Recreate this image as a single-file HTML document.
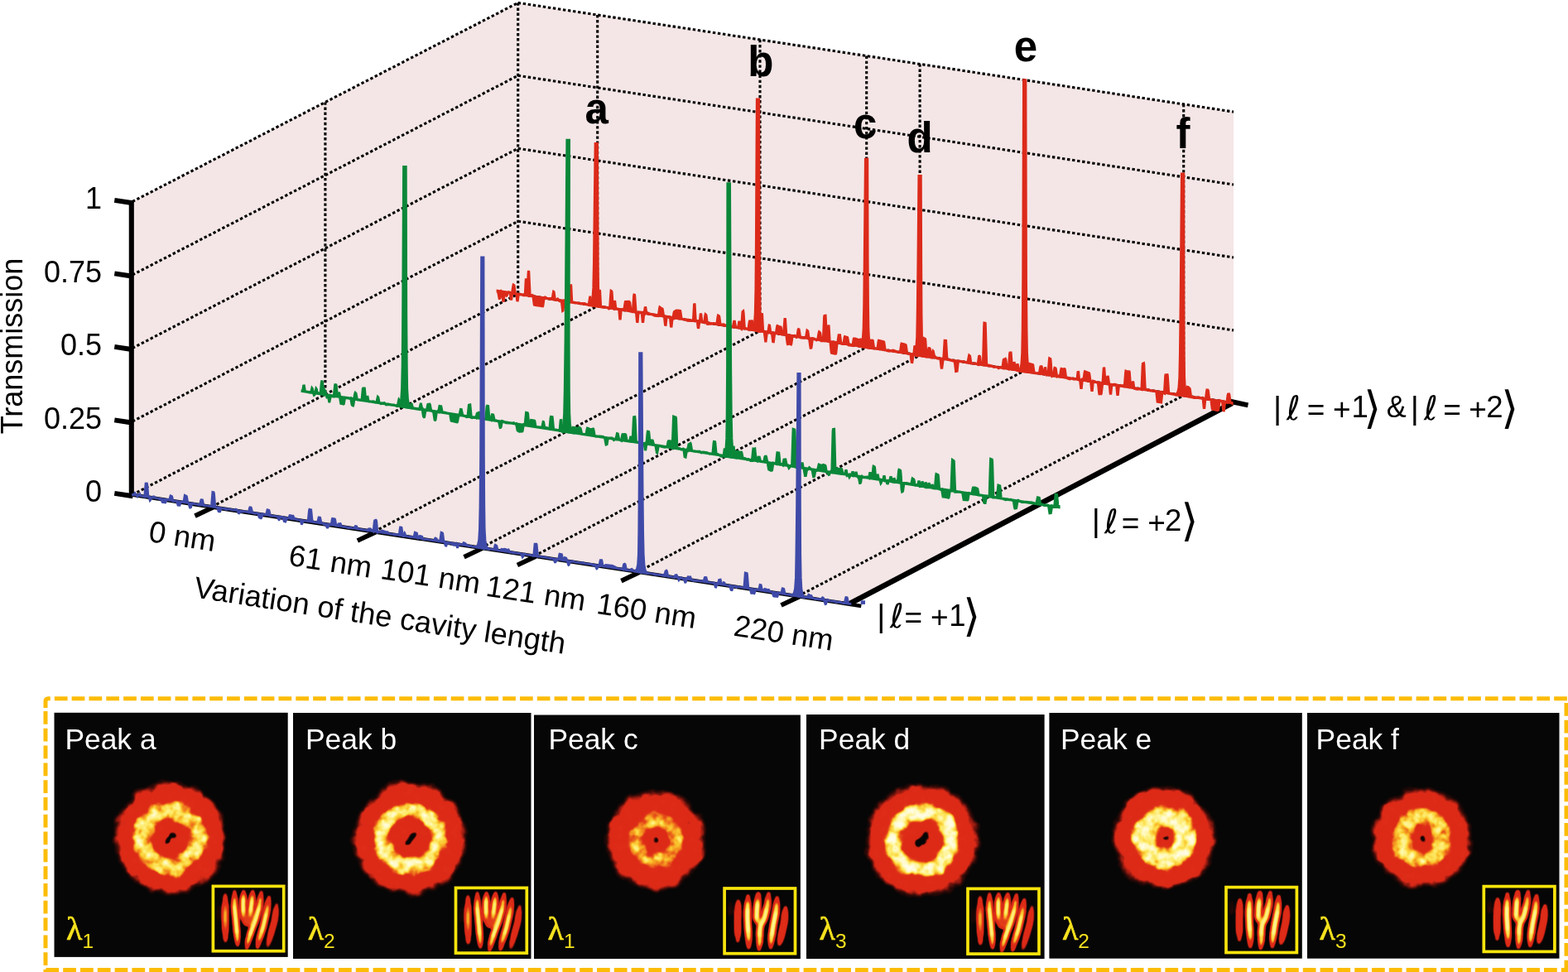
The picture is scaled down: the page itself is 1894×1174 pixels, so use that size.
<!DOCTYPE html>
<html lang="en">
<head>
<meta charset="utf-8">
<title>Transmission versus variation of the cavity length</title>
<style>
html,body{margin:0;padding:0;background:#fff;}
body{width:1894px;height:1174px;overflow:hidden;}
svg{display:block;}
.dot line{stroke:#000;stroke-width:3.1;stroke-dasharray:3.4 2.7;fill:none;}
</style>
</head>
<body>
<svg width="1894" height="1174" viewBox="0 0 1894 1174">
<defs>
<filter id="hot_a" filterUnits="userSpaceOnUse" x="121.5" y="928.4" width="168" height="168" color-interpolation-filters="sRGB"><feTurbulence type="fractalNoise" baseFrequency="0.045" numOctaves="3" seed="8" result="lf"/><feDisplacementMap in="SourceGraphic" in2="lf" scale="12" xChannelSelector="G" yChannelSelector="R" result="shape"/><feGaussianBlur in="shape" stdDeviation="1.0" result="soft"/><feTurbulence type="fractalNoise" baseFrequency="0.42" numOctaves="2" seed="3" result="hf"/><feColorMatrix in="hf" type="matrix" values="1 0 0 0 0  1 0 0 0 0  1 0 0 0 0  0 0 0 0 1" result="hfg"/><feComposite in="soft" in2="hfg" operator="arithmetic" k1="0.56" k2="0.74" k3="0" k4="0" result="noisy0"/><feTurbulence type="fractalNoise" baseFrequency="0.11" numOctaves="2" seed="43" result="mf"/><feColorMatrix in="mf" type="matrix" values="1 0 0 0 0  1 0 0 0 0  1 0 0 0 0  0 0 0 0 1" result="mfg"/><feComposite in="noisy0" in2="mfg" operator="arithmetic" k1="0.9" k2="0.56" k3="0" k4="0" result="noisy"/><feGaussianBlur in="noisy" stdDeviation="0.85"/><feComponentTransfer><feFuncR type="table" tableValues="0.024 0.031 0.204 0.588 0.863 0.867 0.867 0.871 0.894 0.933 0.965 0.980 0.992 0.996 1.000 1.000 1.000"/><feFuncG type="table" tableValues="0.024 0.024 0.043 0.102 0.165 0.165 0.169 0.180 0.282 0.439 0.627 0.784 0.886 0.933 0.965 0.980 0.992"/><feFuncB type="table" tableValues="0.024 0.024 0.031 0.063 0.094 0.094 0.094 0.094 0.102 0.110 0.133 0.196 0.329 0.486 0.643 0.800 0.910"/></feComponentTransfer></filter>
<radialGradient id="int_a" gradientUnits="objectBoundingBox" cx="0.5" cy="0.5" r="0.5"><stop offset="0.000" stop-color="#545454"/><stop offset="0.297" stop-color="#545454"/><stop offset="0.328" stop-color="#8f8f8f"/><stop offset="0.365" stop-color="#adadad"/><stop offset="0.426" stop-color="#c2c2c2"/><stop offset="0.493" stop-color="#c2c2c2"/><stop offset="0.554" stop-color="#adadad"/><stop offset="0.591" stop-color="#8f8f8f"/><stop offset="0.622" stop-color="#545454"/><stop offset="0.818" stop-color="#545454"/><stop offset="0.858" stop-color="#383838"/><stop offset="0.899" stop-color="#212121"/><stop offset="0.946" stop-color="#0f0f0f"/><stop offset="1.000" stop-color="#000000"/></radialGradient>
<filter id="hot_b" filterUnits="userSpaceOnUse" x="411.0" y="928.4" width="168" height="168" color-interpolation-filters="sRGB"><feTurbulence type="fractalNoise" baseFrequency="0.045" numOctaves="3" seed="5" result="lf"/><feDisplacementMap in="SourceGraphic" in2="lf" scale="12" xChannelSelector="G" yChannelSelector="R" result="shape"/><feGaussianBlur in="shape" stdDeviation="1.0" result="soft"/><feTurbulence type="fractalNoise" baseFrequency="0.42" numOctaves="2" seed="11" result="hf"/><feColorMatrix in="hf" type="matrix" values="1 0 0 0 0  1 0 0 0 0  1 0 0 0 0  0 0 0 0 1" result="hfg"/><feComposite in="soft" in2="hfg" operator="arithmetic" k1="0.56" k2="0.74" k3="0" k4="0" result="noisy0"/><feTurbulence type="fractalNoise" baseFrequency="0.11" numOctaves="2" seed="51" result="mf"/><feColorMatrix in="mf" type="matrix" values="1 0 0 0 0  1 0 0 0 0  1 0 0 0 0  0 0 0 0 1" result="mfg"/><feComposite in="noisy0" in2="mfg" operator="arithmetic" k1="0.9" k2="0.56" k3="0" k4="0" result="noisy"/><feGaussianBlur in="noisy" stdDeviation="0.85"/><feComponentTransfer><feFuncR type="table" tableValues="0.024 0.031 0.204 0.588 0.863 0.867 0.867 0.871 0.894 0.933 0.965 0.980 0.992 0.996 1.000 1.000 1.000"/><feFuncG type="table" tableValues="0.024 0.024 0.043 0.102 0.165 0.165 0.169 0.180 0.282 0.439 0.627 0.784 0.886 0.933 0.965 0.980 0.992"/><feFuncB type="table" tableValues="0.024 0.024 0.031 0.063 0.094 0.094 0.094 0.094 0.102 0.110 0.133 0.196 0.329 0.486 0.643 0.800 0.910"/></feComponentTransfer></filter>
<radialGradient id="int_b" gradientUnits="objectBoundingBox" cx="0.5" cy="0.5" r="0.5"><stop offset="0.000" stop-color="#545454"/><stop offset="0.309" stop-color="#545454"/><stop offset="0.340" stop-color="#8f8f8f"/><stop offset="0.376" stop-color="#b8b8b8"/><stop offset="0.423" stop-color="#cccccc"/><stop offset="0.491" stop-color="#cccccc"/><stop offset="0.538" stop-color="#b8b8b8"/><stop offset="0.574" stop-color="#8f8f8f"/><stop offset="0.605" stop-color="#545454"/><stop offset="0.819" stop-color="#545454"/><stop offset="0.859" stop-color="#383838"/><stop offset="0.899" stop-color="#212121"/><stop offset="0.946" stop-color="#0f0f0f"/><stop offset="1.000" stop-color="#000000"/></radialGradient>
<filter id="hot_c" filterUnits="userSpaceOnUse" x="708.0" y="931.0" width="168" height="168" color-interpolation-filters="sRGB"><feTurbulence type="fractalNoise" baseFrequency="0.045" numOctaves="3" seed="14" result="lf"/><feDisplacementMap in="SourceGraphic" in2="lf" scale="12" xChannelSelector="G" yChannelSelector="R" result="shape"/><feGaussianBlur in="shape" stdDeviation="1.0" result="soft"/><feTurbulence type="fractalNoise" baseFrequency="0.42" numOctaves="2" seed="21" result="hf"/><feColorMatrix in="hf" type="matrix" values="1 0 0 0 0  1 0 0 0 0  1 0 0 0 0  0 0 0 0 1" result="hfg"/><feComposite in="soft" in2="hfg" operator="arithmetic" k1="0.56" k2="0.74" k3="0" k4="0" result="noisy0"/><feTurbulence type="fractalNoise" baseFrequency="0.11" numOctaves="2" seed="61" result="mf"/><feColorMatrix in="mf" type="matrix" values="1 0 0 0 0  1 0 0 0 0  1 0 0 0 0  0 0 0 0 1" result="mfg"/><feComposite in="noisy0" in2="mfg" operator="arithmetic" k1="0.9" k2="0.56" k3="0" k4="0" result="noisy"/><feGaussianBlur in="noisy" stdDeviation="0.85"/><feComponentTransfer><feFuncR type="table" tableValues="0.024 0.031 0.204 0.588 0.863 0.867 0.867 0.871 0.894 0.933 0.965 0.980 0.992 0.996 1.000 1.000 1.000"/><feFuncG type="table" tableValues="0.024 0.024 0.043 0.102 0.165 0.165 0.169 0.180 0.282 0.439 0.627 0.784 0.886 0.933 0.965 0.980 0.992"/><feFuncB type="table" tableValues="0.024 0.024 0.031 0.063 0.094 0.094 0.094 0.094 0.102 0.110 0.133 0.196 0.329 0.486 0.643 0.800 0.910"/></feComponentTransfer></filter>
<radialGradient id="int_c" gradientUnits="objectBoundingBox" cx="0.5" cy="0.5" r="0.5"><stop offset="0.000" stop-color="#545454"/><stop offset="0.211" stop-color="#545454"/><stop offset="0.245" stop-color="#8f8f8f"/><stop offset="0.286" stop-color="#939393"/><stop offset="0.323" stop-color="#a7a7a7"/><stop offset="0.398" stop-color="#a7a7a7"/><stop offset="0.436" stop-color="#939393"/><stop offset="0.477" stop-color="#8f8f8f"/><stop offset="0.511" stop-color="#545454"/><stop offset="0.797" stop-color="#545454"/><stop offset="0.842" stop-color="#383838"/><stop offset="0.887" stop-color="#212121"/><stop offset="0.940" stop-color="#0f0f0f"/><stop offset="1.000" stop-color="#000000"/></radialGradient>
<filter id="hot_d" filterUnits="userSpaceOnUse" x="1029.8" y="931.0" width="168" height="168" color-interpolation-filters="sRGB"><feTurbulence type="fractalNoise" baseFrequency="0.045" numOctaves="3" seed="31" result="lf"/><feDisplacementMap in="SourceGraphic" in2="lf" scale="12" xChannelSelector="G" yChannelSelector="R" result="shape"/><feGaussianBlur in="shape" stdDeviation="1.0" result="soft"/><feTurbulence type="fractalNoise" baseFrequency="0.42" numOctaves="2" seed="7" result="hf"/><feColorMatrix in="hf" type="matrix" values="1 0 0 0 0  1 0 0 0 0  1 0 0 0 0  0 0 0 0 1" result="hfg"/><feComposite in="soft" in2="hfg" operator="arithmetic" k1="0.56" k2="0.74" k3="0" k4="0" result="noisy0"/><feTurbulence type="fractalNoise" baseFrequency="0.11" numOctaves="2" seed="47" result="mf"/><feColorMatrix in="mf" type="matrix" values="1 0 0 0 0  1 0 0 0 0  1 0 0 0 0  0 0 0 0 1" result="mfg"/><feComposite in="noisy0" in2="mfg" operator="arithmetic" k1="0.9" k2="0.56" k3="0" k4="0" result="noisy"/><feGaussianBlur in="noisy" stdDeviation="0.85"/><feComponentTransfer><feFuncR type="table" tableValues="0.024 0.031 0.204 0.588 0.863 0.867 0.867 0.871 0.894 0.933 0.965 0.980 0.992 0.996 1.000 1.000 1.000"/><feFuncG type="table" tableValues="0.024 0.024 0.043 0.102 0.165 0.165 0.169 0.180 0.282 0.439 0.627 0.784 0.886 0.933 0.965 0.980 0.992"/><feFuncB type="table" tableValues="0.024 0.024 0.031 0.063 0.094 0.094 0.094 0.094 0.102 0.110 0.133 0.196 0.329 0.486 0.643 0.800 0.910"/></feComponentTransfer></filter>
<radialGradient id="int_d" gradientUnits="objectBoundingBox" cx="0.5" cy="0.5" r="0.5"><stop offset="0.000" stop-color="#545454"/><stop offset="0.322" stop-color="#545454"/><stop offset="0.353" stop-color="#8f8f8f"/><stop offset="0.389" stop-color="#d1d1d1"/><stop offset="0.436" stop-color="#e6e6e6"/><stop offset="0.503" stop-color="#e6e6e6"/><stop offset="0.550" stop-color="#d1d1d1"/><stop offset="0.587" stop-color="#8f8f8f"/><stop offset="0.617" stop-color="#545454"/><stop offset="0.819" stop-color="#545454"/><stop offset="0.859" stop-color="#383838"/><stop offset="0.899" stop-color="#212121"/><stop offset="0.946" stop-color="#0f0f0f"/><stop offset="1.000" stop-color="#000000"/></radialGradient>
<filter id="hot_e" filterUnits="userSpaceOnUse" x="1322.3" y="928.0" width="168" height="168" color-interpolation-filters="sRGB"><feTurbulence type="fractalNoise" baseFrequency="0.045" numOctaves="3" seed="2" result="lf"/><feDisplacementMap in="SourceGraphic" in2="lf" scale="12" xChannelSelector="G" yChannelSelector="R" result="shape"/><feGaussianBlur in="shape" stdDeviation="1.0" result="soft"/><feTurbulence type="fractalNoise" baseFrequency="0.42" numOctaves="2" seed="17" result="hf"/><feColorMatrix in="hf" type="matrix" values="1 0 0 0 0  1 0 0 0 0  1 0 0 0 0  0 0 0 0 1" result="hfg"/><feComposite in="soft" in2="hfg" operator="arithmetic" k1="0.56" k2="0.74" k3="0" k4="0" result="noisy0"/><feTurbulence type="fractalNoise" baseFrequency="0.11" numOctaves="2" seed="57" result="mf"/><feColorMatrix in="mf" type="matrix" values="1 0 0 0 0  1 0 0 0 0  1 0 0 0 0  0 0 0 0 1" result="mfg"/><feComposite in="noisy0" in2="mfg" operator="arithmetic" k1="0.9" k2="0.56" k3="0" k4="0" result="noisy"/><feGaussianBlur in="noisy" stdDeviation="0.85"/><feComponentTransfer><feFuncR type="table" tableValues="0.024 0.031 0.204 0.588 0.863 0.867 0.867 0.871 0.894 0.933 0.965 0.980 0.992 0.996 1.000 1.000 1.000"/><feFuncG type="table" tableValues="0.024 0.024 0.043 0.102 0.165 0.165 0.169 0.180 0.282 0.439 0.627 0.784 0.886 0.933 0.965 0.980 0.992"/><feFuncB type="table" tableValues="0.024 0.024 0.031 0.063 0.094 0.094 0.094 0.094 0.102 0.110 0.133 0.196 0.329 0.486 0.643 0.800 0.910"/></feComponentTransfer></filter>
<radialGradient id="int_e" gradientUnits="objectBoundingBox" cx="0.5" cy="0.5" r="0.5"><stop offset="0.000" stop-color="#545454"/><stop offset="0.161" stop-color="#545454"/><stop offset="0.194" stop-color="#8f8f8f"/><stop offset="0.234" stop-color="#c7c7c7"/><stop offset="0.336" stop-color="#dbdbdb"/><stop offset="0.409" stop-color="#dbdbdb"/><stop offset="0.511" stop-color="#c7c7c7"/><stop offset="0.550" stop-color="#8f8f8f"/><stop offset="0.584" stop-color="#545454"/><stop offset="0.803" stop-color="#545454"/><stop offset="0.847" stop-color="#383838"/><stop offset="0.891" stop-color="#212121"/><stop offset="0.942" stop-color="#0f0f0f"/><stop offset="1.000" stop-color="#000000"/></radialGradient>
<filter id="hot_f" filterUnits="userSpaceOnUse" x="1633.3" y="928.4" width="168" height="168" color-interpolation-filters="sRGB"><feTurbulence type="fractalNoise" baseFrequency="0.045" numOctaves="3" seed="23" result="lf"/><feDisplacementMap in="SourceGraphic" in2="lf" scale="12" xChannelSelector="G" yChannelSelector="R" result="shape"/><feGaussianBlur in="shape" stdDeviation="1.0" result="soft"/><feTurbulence type="fractalNoise" baseFrequency="0.42" numOctaves="2" seed="29" result="hf"/><feColorMatrix in="hf" type="matrix" values="1 0 0 0 0  1 0 0 0 0  1 0 0 0 0  0 0 0 0 1" result="hfg"/><feComposite in="soft" in2="hfg" operator="arithmetic" k1="0.56" k2="0.74" k3="0" k4="0" result="noisy0"/><feTurbulence type="fractalNoise" baseFrequency="0.11" numOctaves="2" seed="69" result="mf"/><feColorMatrix in="mf" type="matrix" values="1 0 0 0 0  1 0 0 0 0  1 0 0 0 0  0 0 0 0 1" result="mfg"/><feComposite in="noisy0" in2="mfg" operator="arithmetic" k1="0.9" k2="0.56" k3="0" k4="0" result="noisy"/><feGaussianBlur in="noisy" stdDeviation="0.85"/><feComponentTransfer><feFuncR type="table" tableValues="0.024 0.031 0.204 0.588 0.863 0.867 0.867 0.871 0.894 0.933 0.965 0.980 0.992 0.996 1.000 1.000 1.000"/><feFuncG type="table" tableValues="0.024 0.024 0.043 0.102 0.165 0.165 0.169 0.180 0.282 0.439 0.627 0.784 0.886 0.933 0.965 0.980 0.992"/><feFuncB type="table" tableValues="0.024 0.024 0.031 0.063 0.094 0.094 0.094 0.094 0.102 0.110 0.133 0.196 0.329 0.486 0.643 0.800 0.910"/></feComponentTransfer></filter>
<radialGradient id="int_f" gradientUnits="objectBoundingBox" cx="0.5" cy="0.5" r="0.5"><stop offset="0.000" stop-color="#545454"/><stop offset="0.203" stop-color="#545454"/><stop offset="0.238" stop-color="#8f8f8f"/><stop offset="0.278" stop-color="#a3a3a3"/><stop offset="0.346" stop-color="#b8b8b8"/><stop offset="0.421" stop-color="#b8b8b8"/><stop offset="0.489" stop-color="#a3a3a3"/><stop offset="0.529" stop-color="#8f8f8f"/><stop offset="0.564" stop-color="#545454"/><stop offset="0.797" stop-color="#545454"/><stop offset="0.842" stop-color="#383838"/><stop offset="0.887" stop-color="#212121"/><stop offset="0.940" stop-color="#0f0f0f"/><stop offset="1.000" stop-color="#000000"/></radialGradient>
<filter id="hotF" filterUnits="userSpaceOnUse" x="0" y="0" width="89" height="82" color-interpolation-filters="sRGB"><feGaussianBlur stdDeviation="1.35"/><feComponentTransfer><feFuncR type="table" tableValues="0.024 0.031 0.204 0.588 0.863 0.867 0.867 0.871 0.894 0.933 0.965 0.980 0.992 0.996 1.000 1.000 1.000"/><feFuncG type="table" tableValues="0.024 0.024 0.043 0.102 0.165 0.165 0.169 0.180 0.282 0.439 0.627 0.784 0.886 0.933 0.965 0.980 0.992"/><feFuncB type="table" tableValues="0.024 0.024 0.031 0.063 0.094 0.094 0.094 0.094 0.102 0.110 0.133 0.196 0.329 0.486 0.643 0.800 0.910"/></feComponentTransfer></filter>
<radialGradient id="env" gradientUnits="objectBoundingBox" cx="0.5" cy="0.5" r="0.66"><stop offset="0" stop-color="#000" stop-opacity="0"/><stop offset="0.5" stop-color="#000" stop-opacity="0"/><stop offset="0.72" stop-color="#000" stop-opacity="0.35"/><stop offset="0.88" stop-color="#000" stop-opacity="0.75"/><stop offset="1" stop-color="#000" stop-opacity="1"/></radialGradient>
<g id="fringeA" filter="url(#hotF)"><rect width="89" height="82" fill="#000"/><g fill="none" stroke="#fff" stroke-linecap="round" stroke-linejoin="round"><g opacity="0.47"><ellipse cx="43.5" cy="44.0" rx="5.0" ry="6.0" fill="#fff" stroke="none"/><path d="M16.5 12.0 C16.5 13.8 16.5 19.0 16.5 22.5 C16.5 26.0 16.5 29.5 16.5 33.0 C16.5 36.5 16.5 40.0 16.5 43.5 C16.6 47.0 16.6 50.5 16.6 54.0 C16.7 57.5 16.7 62.2 16.8 64.5 C16.8 66.8 16.8 67.4 16.8 68.0" stroke-width="4.2"/><path d="M16.5 15.5 C16.5 17.2 16.5 22.5 16.5 26.0 C16.5 29.5 16.5 33.0 16.5 36.5 C16.5 40.0 16.5 43.5 16.6 47.0 C16.6 50.5 16.7 54.6 16.7 57.5 C16.7 60.4 16.8 63.3 16.8 64.5" stroke-width="5.9"/><path d="M16.5 22.5 C16.5 24.2 16.5 29.5 16.5 33.0 C16.5 36.5 16.5 40.0 16.5 43.5 C16.6 47.0 16.6 51.7 16.6 54.0 C16.7 56.3 16.7 56.9 16.7 57.5" stroke-width="7.0"/><path d="M16.5 26.0 C16.5 27.8 16.5 33.0 16.5 36.5 C16.5 40.0 16.6 44.1 16.6 47.0 C16.6 49.9 16.6 52.8 16.6 54.0" stroke-width="7.5"/><path d="M27.8 8.0 C27.8 9.2 27.8 12.8 27.8 15.1 C27.8 17.5 27.8 19.9 27.8 22.2 C27.8 24.6 27.9 26.9 28.0 29.0 C28.1 31.1 28.4 33.0 28.6 35.0 C28.8 37.0 29.0 38.9 29.2 41.0 C29.4 43.1 29.6 45.4 29.8 47.8 C30.0 50.1 30.2 52.5 30.4 54.9 C30.6 57.2 30.9 60.1 31.0 62.0 C31.1 63.9 31.1 64.8 31.2 66.1 C31.2 67.5 31.3 69.1 31.4 70.2 C31.4 71.4 31.5 72.5 31.5 73.0" stroke-width="4.2"/><path d="M27.8 12.8 C27.8 13.9 27.8 17.5 27.8 19.9 C27.8 22.2 27.7 24.8 27.8 27.0 C27.9 29.2 28.2 31.0 28.4 33.0 C28.6 35.0 28.8 36.9 29.0 39.0 C29.2 41.1 29.4 43.1 29.6 45.4 C29.8 47.6 30.0 50.1 30.2 52.5 C30.4 54.9 30.6 57.6 30.8 59.6 C31.0 61.7 31.0 63.2 31.1 64.8 C31.2 66.3 31.3 68.2 31.3 68.9" stroke-width="5.9"/><path d="M27.8 17.5 C27.8 18.7 27.7 22.4 27.8 24.6 C27.9 26.9 28.0 28.9 28.2 31.0 C28.4 33.1 28.6 35.0 28.8 37.0 C29.0 39.0 29.2 40.8 29.4 43.0 C29.6 45.2 29.8 47.8 30.0 50.1 C30.2 52.5 30.4 55.0 30.6 57.2 C30.8 59.5 31.0 62.4 31.1 63.4" stroke-width="7.0"/><path d="M27.8 24.6 C27.9 25.7 28.0 28.9 28.2 31.0 C28.4 33.1 28.6 35.0 28.8 37.0 C29.0 39.0 29.2 40.8 29.4 43.0 C29.6 45.2 29.8 47.8 30.0 50.1 C30.2 52.5 30.5 56.1 30.6 57.2" stroke-width="7.5"/><path d="M38.8 8.0 C38.8 8.9 38.7 11.5 38.6 13.2 C38.5 15.0 38.4 16.7 38.4 18.5 C38.3 20.3 38.2 22.0 38.2 23.9 C38.2 25.7 38.3 27.6 38.3 29.5 C38.3 31.4 38.2 33.5 38.4 35.1 C38.5 36.8 38.8 38.1 39.0 39.5 C39.3 40.9 39.7 42.0 40.0 43.2 C40.4 44.5 40.8 46.4 41.0 47.0" stroke-width="4.2"/><path d="M38.6 11.5 C38.6 12.4 38.5 15.0 38.4 16.8 C38.3 18.5 38.2 20.2 38.2 22.0 C38.2 23.8 38.2 25.8 38.3 27.6 C38.3 29.5 38.3 31.5 38.4 33.2 C38.4 35.0 38.5 36.8 38.7 38.2 C39.0 39.7 39.4 41.0 39.7 42.0 C40.0 43.0 40.2 44.1 40.4 44.5" stroke-width="5.9"/><path d="M38.6 13.2 C38.5 14.1 38.4 16.7 38.4 18.5 C38.3 20.3 38.2 22.0 38.2 23.9 C38.2 25.7 38.3 27.6 38.3 29.5 C38.3 31.4 38.2 33.5 38.4 35.1 C38.5 36.8 38.9 38.6 39.0 39.5 C39.2 40.4 39.3 40.5 39.4 40.8" stroke-width="7.0"/><path d="M38.4 16.8 C38.4 17.6 38.2 20.2 38.2 22.0 C38.2 23.8 38.2 25.8 38.3 27.6 C38.3 29.5 38.3 31.5 38.4 33.2 C38.4 35.0 38.7 37.4 38.7 38.2" stroke-width="7.5"/><path d="M49.8 8.0 C49.7 8.9 49.4 11.5 49.3 13.2 C49.1 15.0 48.9 16.7 48.8 18.5 C48.6 20.3 48.4 22.0 48.2 23.9 C48.0 25.7 47.7 27.6 47.5 29.5 C47.3 31.4 47.1 33.4 46.8 35.1 C46.6 36.8 46.3 38.3 46.1 39.8 C45.8 41.2 45.6 42.5 45.3 43.9 C45.0 45.2 44.6 47.3 44.5 48.0" stroke-width="4.2"/><path d="M49.4 11.5 C49.4 12.4 49.1 15.0 48.9 16.8 C48.8 18.5 48.6 20.2 48.4 22.0 C48.2 23.8 48.0 25.8 47.7 27.6 C47.5 29.5 47.3 31.5 47.0 33.2 C46.8 35.0 46.6 36.8 46.3 38.4 C46.1 39.9 45.8 41.4 45.5 42.5 C45.3 43.6 45.1 44.8 45.0 45.2" stroke-width="5.9"/><path d="M49.3 13.2 C49.2 14.1 48.9 16.7 48.8 18.5 C48.6 20.3 48.4 22.0 48.2 23.9 C48.0 25.7 47.7 27.6 47.5 29.5 C47.3 31.4 47.1 33.4 46.8 35.1 C46.6 36.8 46.3 38.5 46.1 39.8 C45.9 41.0 45.6 42.0 45.5 42.5" stroke-width="7.0"/><path d="M48.8 18.5 C48.7 19.4 48.4 22.0 48.2 23.9 C48.0 25.7 47.7 27.6 47.5 29.5 C47.3 31.4 47.0 33.6 46.8 35.1 C46.6 36.6 46.4 37.8 46.3 38.4" stroke-width="7.5"/><path d="M60.2 9.0 C60.0 10.1 59.6 13.5 59.2 15.8 C58.9 18.0 58.6 20.3 58.2 22.5 C57.9 24.7 57.5 26.9 57.0 29.0 C56.5 31.1 55.8 33.0 55.2 35.0 C54.7 37.0 54.1 39.1 53.5 41.0 C52.9 42.9 52.2 44.7 51.6 46.5 C50.9 48.3 50.2 50.0 49.6 51.8 C48.9 53.5 48.1 55.4 47.6 57.0 C47.1 58.6 46.8 59.8 46.4 61.1 C45.9 62.5 45.5 63.9 45.1 65.2 C44.7 66.6 44.4 67.9 44.1 69.1 C43.8 70.3 43.6 71.4 43.4 72.5 C43.2 73.6 42.9 75.1 42.7 75.9 C42.6 76.6 42.5 76.8 42.5 77.0" stroke-width="4.2"/><path d="M59.6 13.5 C59.4 14.6 58.9 18.0 58.6 20.2 C58.2 22.5 58.1 24.9 57.6 27.0 C57.1 29.1 56.4 31.0 55.8 33.0 C55.2 35.0 54.7 37.0 54.1 39.0 C53.5 41.0 52.9 42.9 52.2 44.8 C51.6 46.6 50.9 48.2 50.2 50.0 C49.6 51.8 48.8 53.6 48.3 55.2 C47.7 56.9 47.2 58.3 46.8 59.8 C46.3 61.2 46.0 62.5 45.5 63.9 C45.1 65.2 44.6 66.8 44.3 68.0 C44.0 69.2 43.8 70.6 43.6 71.4 C43.5 72.1 43.4 72.3 43.4 72.5" stroke-width="5.9"/><path d="M58.9 18.0 C58.7 19.1 58.3 22.6 57.9 24.8 C57.5 26.9 57.0 29.0 56.4 31.0 C55.9 33.0 55.2 35.0 54.7 37.0 C54.1 39.0 53.5 41.1 52.9 43.0 C52.3 44.9 51.6 46.5 50.9 48.2 C50.2 50.0 49.5 51.8 48.9 53.5 C48.3 55.2 47.7 56.9 47.2 58.4 C46.7 59.9 46.4 61.1 46.0 62.5 C45.5 63.9 45.0 65.7 44.7 66.6 C44.4 67.5 44.4 67.8 44.3 68.0" stroke-width="7.0"/><path d="M57.9 24.8 C57.7 25.8 57.0 29.0 56.4 31.0 C55.9 33.0 55.2 35.0 54.7 37.0 C54.1 39.0 53.5 41.1 52.9 43.0 C52.3 44.9 51.6 46.5 50.9 48.2 C50.2 50.0 49.5 51.8 48.9 53.5 C48.3 55.2 47.6 57.1 47.2 58.4 C46.8 59.6 46.5 60.7 46.4 61.1" stroke-width="7.5"/><path d="M69.6 15.0 C69.4 16.0 69.0 19.0 68.6 21.0 C68.3 23.0 68.0 24.9 67.7 27.0 C67.3 29.1 66.9 31.2 66.4 33.5 C65.9 35.8 65.2 38.5 64.7 41.0 C64.1 43.5 63.5 46.2 62.9 48.5 C62.3 50.8 61.7 52.8 61.1 54.8 C60.5 56.7 59.9 58.5 59.4 60.4 C58.8 62.2 58.0 64.4 57.6 66.0 C57.2 67.6 57.1 68.5 56.8 69.8 C56.5 71.0 56.2 72.5 56.0 73.5 C55.8 74.5 55.6 75.6 55.5 76.0" stroke-width="4.2"/><path d="M68.9 19.0 C68.8 20.0 68.3 23.0 68.0 25.0 C67.6 27.0 67.5 28.8 67.0 31.0 C66.5 33.2 65.8 36.0 65.2 38.5 C64.6 41.0 64.1 43.6 63.5 46.0 C62.9 48.4 62.3 50.8 61.7 52.9 C61.1 55.0 60.5 56.6 60.0 58.5 C59.4 60.4 58.7 62.5 58.2 64.1 C57.7 65.8 57.4 67.1 57.1 68.5 C56.8 69.9 56.4 71.6 56.3 72.2" stroke-width="5.9"/><path d="M68.3 23.0 C68.1 24.0 67.7 26.8 67.3 29.0 C66.9 31.2 66.4 33.6 65.8 36.0 C65.3 38.4 64.7 41.0 64.1 43.5 C63.5 46.0 62.9 48.8 62.3 51.0 C61.7 53.2 61.1 54.8 60.5 56.6 C60.0 58.5 59.3 60.5 58.8 62.2 C58.2 64.0 57.6 66.4 57.3 67.2" stroke-width="7.0"/><path d="M67.3 29.0 C67.1 30.2 66.4 33.6 65.8 36.0 C65.3 38.4 64.7 41.0 64.1 43.5 C63.5 46.0 62.9 48.8 62.3 51.0 C61.7 53.2 61.1 54.8 60.5 56.6 C60.0 58.5 59.1 61.3 58.8 62.2" stroke-width="7.5"/></g><g opacity="0.11"><path d="M8.0 24.0 C8.0 25.2 7.9 29.0 7.8 31.5 C7.8 34.0 7.7 36.9 7.6 39.0 C7.6 41.1 7.5 43.2 7.5 44.0" stroke-width="4.2"/><path d="M7.9 26.5 C7.9 27.8 7.8 31.5 7.8 34.0 C7.7 36.5 7.6 40.2 7.6 41.5" stroke-width="5.9"/><path d="M7.9 29.0 C7.8 30.2 7.7 34.8 7.7 36.5 C7.6 38.2 7.6 38.6 7.6 39.0" stroke-width="7.0"/><path d="M7.9 29.0 C7.8 30.2 7.7 34.8 7.7 36.5 C7.6 38.2 7.6 38.6 7.6 39.0" stroke-width="7.5"/></g><g opacity="0.40"><path d="M78.8 24.0 C78.7 25.2 78.2 28.8 77.9 31.1 C77.6 33.5 77.4 35.8 77.0 38.2 C76.6 40.7 76.2 43.2 75.6 45.9 C75.0 48.6 74.0 51.6 73.2 54.5 C72.5 57.4 71.5 60.9 70.9 63.1 C70.3 65.4 69.9 66.7 69.6 68.0 C69.2 69.3 69.0 70.0 68.8 71.0 C68.5 72.0 68.1 73.5 68.0 74.0" stroke-width="4.2"/><path d="M78.2 28.8 C78.0 29.9 77.6 33.5 77.3 35.9 C77.0 38.2 76.9 40.4 76.4 43.0 C75.9 45.6 74.8 48.8 74.0 51.6 C73.2 54.5 72.4 57.7 71.7 60.2 C71.0 62.8 70.3 65.4 69.8 67.0 C69.4 68.6 69.2 69.3 69.0 70.0 C68.9 70.7 68.8 70.8 68.8 71.0" stroke-width="5.9"/><path d="M77.9 31.1 C77.8 32.3 77.4 35.8 77.0 38.2 C76.6 40.7 76.2 43.2 75.6 45.9 C75.0 48.6 74.0 51.6 73.2 54.5 C72.5 57.4 71.5 61.0 70.9 63.1 C70.3 65.2 70.0 66.4 69.8 67.0" stroke-width="7.0"/><path d="M77.3 35.9 C77.2 37.1 76.9 40.4 76.4 43.0 C75.9 45.6 74.8 48.8 74.0 51.6 C73.2 54.5 72.1 58.8 71.7 60.2" stroke-width="7.5"/></g><g opacity="0.23"><path d="M16.5 26.0 C16.5 27.8 16.5 33.0 16.5 36.5 C16.5 40.0 16.6 44.7 16.6 47.0 C16.6 49.3 16.6 49.9 16.6 50.5" stroke-width="3.2"/><path d="M16.5 29.5 C16.5 31.2 16.5 37.1 16.5 40.0 C16.5 42.9 16.6 45.8 16.6 47.0" stroke-width="5.1"/><path d="M16.5 33.0 L16.5 43.5" stroke-width="6.1"/></g><path d="M16.5 33.0 L16.5 43.5" stroke-width="3.8" stroke-opacity="0.19"/><g opacity="0.52"><path d="M27.8 17.5 C27.8 18.7 27.7 22.4 27.8 24.6 C27.9 26.9 28.0 28.9 28.2 31.0 C28.4 33.1 28.6 35.0 28.8 37.0 C29.0 39.0 29.2 40.8 29.4 43.0 C29.6 45.2 29.8 47.8 30.0 50.1 C30.2 52.5 30.4 55.0 30.6 57.2 C30.8 59.5 31.0 61.7 31.1 63.4 C31.2 65.1 31.2 66.8 31.2 67.5" stroke-width="3.2"/><path d="M27.8 22.2 C27.8 23.4 27.9 26.9 28.0 29.0 C28.1 31.1 28.4 33.0 28.6 35.0 C28.8 37.0 29.0 38.9 29.2 41.0 C29.4 43.1 29.6 45.4 29.8 47.8 C30.0 50.1 30.2 52.5 30.4 54.9 C30.6 57.2 30.9 60.8 31.0 62.0" stroke-width="5.1"/><path d="M27.8 27.0 C27.9 28.0 28.2 31.0 28.4 33.0 C28.6 35.0 28.8 36.9 29.0 39.0 C29.2 41.1 29.4 43.1 29.6 45.4 C29.8 47.6 30.0 50.5 30.2 52.5 C30.4 54.5 30.5 56.5 30.6 57.2" stroke-width="6.1"/></g><path d="M27.8 27.0 C27.9 28.0 28.2 31.0 28.4 33.0 C28.6 35.0 28.8 36.9 29.0 39.0 C29.2 41.1 29.4 43.1 29.6 45.4 C29.8 47.6 30.0 50.5 30.2 52.5 C30.4 54.5 30.5 56.5 30.6 57.2" stroke-width="3.8" stroke-opacity="0.42"/><g opacity="0.52"><path d="M38.6 13.2 C38.5 14.1 38.4 16.7 38.4 18.5 C38.3 20.3 38.2 22.0 38.2 23.9 C38.2 25.7 38.3 27.6 38.3 29.5 C38.3 31.4 38.4 33.9 38.4 35.1 C38.4 36.4 38.4 36.7 38.4 37.0" stroke-width="3.2"/><path d="M38.4 16.8 C38.4 17.6 38.2 20.2 38.2 22.0 C38.2 23.8 38.2 25.8 38.3 27.6 C38.3 29.5 38.3 32.3 38.4 33.2" stroke-width="5.1"/><path d="M38.4 18.5 C38.3 19.4 38.2 22.0 38.2 23.9 C38.2 25.7 38.3 28.2 38.3 29.5 C38.3 30.8 38.3 31.1 38.3 31.4" stroke-width="6.1"/></g><path d="M38.4 18.5 C38.3 19.4 38.2 22.0 38.2 23.9 C38.2 25.7 38.3 28.2 38.3 29.5 C38.3 30.8 38.3 31.1 38.3 31.4" stroke-width="3.8" stroke-opacity="0.42"/><g opacity="0.49"><path d="M49.1 15.0 C49.0 15.9 48.8 18.5 48.6 20.2 C48.4 22.0 48.2 23.9 48.0 25.8 C47.7 27.6 47.5 29.5 47.3 31.4 C47.0 33.2 46.7 36.1 46.6 37.0" stroke-width="3.2"/><path d="M48.9 16.8 C48.8 17.6 48.6 20.2 48.4 22.0 C48.2 23.8 48.0 25.8 47.7 27.6 C47.5 29.5 47.2 32.3 47.0 33.2" stroke-width="5.1"/><path d="M48.6 20.2 C48.5 21.2 48.2 23.9 48.0 25.8 C47.7 27.6 47.4 30.4 47.3 31.4" stroke-width="6.1"/></g><path d="M48.6 20.2 C48.5 21.2 48.2 23.9 48.0 25.8 C47.7 27.6 47.4 30.4 47.3 31.4" stroke-width="3.8" stroke-opacity="0.40"/><g opacity="0.52"><path d="M58.9 18.0 C58.7 19.1 58.3 22.6 57.9 24.8 C57.5 26.9 57.0 29.0 56.4 31.0 C55.9 33.0 55.2 35.0 54.7 37.0 C54.1 39.0 53.5 41.1 52.9 43.0 C52.3 44.9 51.6 46.5 50.9 48.2 C50.2 50.0 49.5 51.8 48.9 53.5 C48.3 55.2 47.7 56.9 47.2 58.4 C46.7 59.9 46.4 61.1 46.0 62.5 C45.5 63.9 45.1 65.3 44.7 66.6 C44.4 67.9 44.0 69.6 43.8 70.2" stroke-width="3.2"/><path d="M57.9 24.8 C57.7 25.8 57.0 29.0 56.4 31.0 C55.9 33.0 55.2 35.0 54.7 37.0 C54.1 39.0 53.5 41.1 52.9 43.0 C52.3 44.9 51.6 46.5 50.9 48.2 C50.2 50.0 49.5 51.8 48.9 53.5 C48.3 55.2 47.7 56.9 47.2 58.4 C46.7 59.9 46.3 61.4 46.0 62.5 C45.6 63.6 45.3 64.8 45.1 65.2" stroke-width="5.1"/><path d="M57.0 29.0 C56.7 30.0 55.8 33.0 55.2 35.0 C54.7 37.0 54.1 39.1 53.5 41.0 C52.9 42.9 52.2 44.7 51.6 46.5 C50.9 48.3 50.2 50.0 49.6 51.8 C48.9 53.5 48.1 55.7 47.6 57.0 C47.1 58.3 46.9 59.3 46.8 59.8" stroke-width="6.1"/></g><path d="M57.0 29.0 C56.7 30.0 55.8 33.0 55.2 35.0 C54.7 37.0 54.1 39.1 53.5 41.0 C52.9 42.9 52.2 44.7 51.6 46.5 C50.9 48.3 50.2 50.0 49.6 51.8 C48.9 53.5 48.1 55.7 47.6 57.0 C47.1 58.3 46.9 59.3 46.8 59.8" stroke-width="3.8" stroke-opacity="0.42"/><g opacity="0.47"><path d="M67.7 27.0 C67.4 28.1 66.9 31.2 66.4 33.5 C65.9 35.8 65.2 38.5 64.7 41.0 C64.1 43.5 63.5 46.2 62.9 48.5 C62.3 50.8 61.7 52.8 61.1 54.8 C60.5 56.7 59.9 58.5 59.4 60.4 C58.8 62.2 57.9 65.1 57.6 66.0" stroke-width="3.2"/><path d="M67.0 31.0 C66.7 32.2 65.8 36.0 65.2 38.5 C64.6 41.0 64.1 43.6 63.5 46.0 C62.9 48.4 62.3 50.8 61.7 52.9 C61.1 55.0 60.4 56.9 60.0 58.5 C59.5 60.1 59.0 61.6 58.8 62.2" stroke-width="5.1"/><path d="M65.8 36.0 C65.5 37.2 64.7 41.0 64.1 43.5 C63.5 46.0 62.9 48.8 62.3 51.0 C61.7 53.2 60.8 55.7 60.5 56.6" stroke-width="6.1"/></g><path d="M65.8 36.0 C65.5 37.2 64.7 41.0 64.1 43.5 C63.5 46.0 62.9 48.8 62.3 51.0 C61.7 53.2 60.8 55.7 60.5 56.6" stroke-width="3.8" stroke-opacity="0.38"/></g><rect width="89" height="82" fill="url(#env)"/></g>
<g id="fringeB" filter="url(#hotF)"><rect width="89" height="82" fill="#000"/><g fill="none" stroke="#fff" stroke-linecap="round" stroke-linejoin="round"><g opacity="0.47"><path d="M30.2 11.0 C30.1 12.4 30.0 16.8 29.9 19.6 C29.8 22.5 29.7 25.5 29.6 28.2 C29.5 31.0 29.5 33.7 29.5 36.0 C29.5 38.3 29.7 40.0 29.8 42.0 C29.9 44.0 30.0 46.2 30.1 48.0 C30.2 49.8 30.3 51.3 30.4 52.8 C30.5 54.2 30.6 55.5 30.7 56.9 C30.8 58.2 30.9 59.6 31.0 61.0 C31.1 62.4 31.0 64.0 31.0 65.5 C31.0 67.0 31.0 68.8 31.0 70.0 C31.0 71.2 31.0 72.5 31.0 73.0" stroke-width="4.6"/><path d="M30.0 16.8 C29.9 18.2 29.8 22.5 29.7 25.4 C29.6 28.2 29.4 31.6 29.4 34.0 C29.4 36.4 29.6 38.0 29.7 40.0 C29.8 42.0 29.9 44.1 30.0 46.0 C30.1 47.9 30.2 49.8 30.3 51.4 C30.4 53.0 30.5 54.1 30.6 55.5 C30.7 56.9 30.8 58.2 30.9 59.6 C31.0 61.0 31.0 62.5 31.0 64.0 C31.0 65.5 31.0 67.8 31.0 68.5" stroke-width="6.4"/><path d="M29.9 19.6 C29.8 21.1 29.7 25.5 29.6 28.2 C29.5 31.0 29.5 33.7 29.5 36.0 C29.5 38.3 29.7 40.0 29.8 42.0 C29.9 44.0 30.0 46.2 30.1 48.0 C30.2 49.8 30.3 51.3 30.4 52.8 C30.5 54.2 30.6 55.5 30.7 56.9 C30.8 58.2 30.9 59.8 31.0 61.0 C31.1 62.2 31.0 63.5 31.0 64.0" stroke-width="7.5"/><path d="M29.7 25.4 C29.6 26.8 29.4 31.6 29.4 34.0 C29.4 36.4 29.6 38.0 29.7 40.0 C29.8 42.0 29.9 44.1 30.0 46.0 C30.1 47.9 30.2 49.8 30.3 51.4 C30.4 53.0 30.5 54.4 30.6 55.5 C30.7 56.6 30.8 57.8 30.8 58.2" stroke-width="8.1"/><path d="M42.7 8.0 C42.6 9.1 42.3 12.5 42.1 14.8 C41.9 17.0 41.7 19.4 41.5 21.5 C41.3 23.6 41.1 25.8 41.0 27.5 C40.9 29.2 40.9 30.5 40.9 32.0 C40.8 33.5 40.6 35.2 40.7 36.5 C40.7 37.8 41.0 38.8 41.2 39.8 C41.4 40.7 41.8 41.5 42.1 42.4 C42.4 43.2 42.9 44.6 43.0 45.0" stroke-width="4.6"/><path d="M42.5 10.2 C42.4 11.4 42.1 14.8 41.9 17.0 C41.7 19.2 41.5 21.8 41.3 23.8 C41.1 25.8 41.1 27.4 41.0 29.0 C40.9 30.6 40.9 32.0 40.8 33.5 C40.7 35.0 40.5 36.8 40.6 38.0 C40.7 39.2 41.2 39.9 41.5 40.6 C41.8 41.4 42.0 42.1 42.1 42.4" stroke-width="6.4"/><path d="M42.1 14.8 C42.0 15.9 41.7 19.4 41.5 21.5 C41.3 23.6 41.1 25.8 41.0 27.5 C40.9 29.2 40.9 30.5 40.9 32.0 C40.8 33.5 40.6 35.2 40.7 36.5 C40.7 37.8 41.1 39.2 41.2 39.8" stroke-width="7.5"/><path d="M41.9 17.0 C41.8 18.1 41.5 21.8 41.3 23.8 C41.1 25.8 41.1 27.4 41.0 29.0 C40.9 30.6 40.8 32.2 40.8 33.5 C40.7 34.8 40.7 36.0 40.7 36.5" stroke-width="8.1"/><path d="M55.2 8.0 C55.1 8.9 54.8 11.5 54.6 13.2 C54.5 15.0 54.3 16.7 54.1 18.5 C53.8 20.3 53.6 22.1 53.2 24.0 C52.8 25.9 52.2 28.0 51.8 30.0 C51.3 32.0 50.8 34.3 50.3 36.0 C49.8 37.7 49.2 38.8 48.7 40.0 C48.2 41.2 47.6 42.0 47.0 43.0 C46.5 44.0 45.7 45.0 45.4 46.0 C45.1 47.0 45.1 48.0 45.0 49.0 C44.8 50.0 44.7 50.9 44.6 52.0 C44.5 53.1 44.3 54.1 44.3 55.4 C44.3 56.6 44.3 58.1 44.3 59.5 C44.3 60.9 44.3 62.3 44.3 63.6 C44.3 65.0 44.2 66.2 44.1 67.5 C44.0 68.8 43.9 70.0 43.8 71.2 C43.7 72.5 43.5 74.4 43.5 75.0" stroke-width="4.6"/><path d="M54.6 13.2 C54.5 14.1 54.3 16.7 54.1 18.5 C53.8 20.3 53.6 22.1 53.2 24.0 C52.8 25.9 52.2 28.0 51.8 30.0 C51.3 32.0 50.8 34.3 50.3 36.0 C49.8 37.7 49.2 38.8 48.7 40.0 C48.2 41.2 47.6 42.0 47.0 43.0 C46.5 44.0 45.7 45.0 45.4 46.0 C45.1 47.0 45.1 48.0 45.0 49.0 C44.8 50.0 44.7 50.9 44.6 52.0 C44.5 53.1 44.3 54.1 44.3 55.4 C44.3 56.6 44.3 58.1 44.3 59.5 C44.3 60.9 44.3 62.3 44.3 63.6 C44.3 65.0 44.2 66.4 44.1 67.5 C44.0 68.6 43.9 69.6 43.9 70.0" stroke-width="6.4"/><path d="M54.3 16.8 C54.2 17.6 54.0 20.1 53.7 22.0 C53.4 23.9 52.7 26.0 52.2 28.0 C51.8 30.0 51.3 32.2 50.8 34.0 C50.3 35.8 49.8 37.7 49.2 39.0 C48.7 40.3 48.1 41.0 47.6 42.0 C47.0 43.0 46.4 44.0 45.9 45.0 C45.5 46.0 45.3 47.0 45.1 48.0 C44.9 49.0 44.9 50.0 44.7 51.0 C44.6 52.0 44.4 52.8 44.3 54.0 C44.2 55.2 44.3 56.8 44.3 58.1 C44.3 59.5 44.3 60.9 44.3 62.2 C44.3 63.6 44.2 65.6 44.2 66.2" stroke-width="7.5"/><path d="M53.2 24.0 C53.0 25.0 52.2 28.0 51.8 30.0 C51.3 32.0 50.8 34.3 50.3 36.0 C49.8 37.7 49.2 38.8 48.7 40.0 C48.2 41.2 47.6 42.0 47.0 43.0 C46.5 44.0 45.7 45.0 45.4 46.0 C45.1 47.0 45.1 48.0 45.0 49.0 C44.8 50.0 44.7 50.9 44.6 52.0 C44.5 53.1 44.3 54.1 44.3 55.4 C44.3 56.6 44.3 58.8 44.3 59.5" stroke-width="8.1"/><path d="M65.4 13.0 C65.3 14.1 65.0 17.2 64.8 19.4 C64.7 21.5 64.5 23.6 64.3 25.8 C64.1 27.9 63.8 30.0 63.5 32.0 C63.2 34.0 62.7 36.0 62.3 38.0 C61.9 40.0 61.5 42.0 61.1 44.0 C60.7 46.0 60.4 47.9 60.1 49.8 C59.8 51.6 59.6 53.5 59.3 55.4 C59.0 57.2 58.6 59.3 58.4 61.0 C58.2 62.7 58.2 64.0 58.1 65.5 C58.0 67.0 57.9 68.8 57.8 70.0 C57.7 71.2 57.6 72.5 57.6 73.0" stroke-width="4.6"/><path d="M65.0 17.2 C64.9 18.3 64.7 21.5 64.5 23.6 C64.3 25.8 64.2 27.9 63.9 30.0 C63.6 32.1 63.1 34.0 62.7 36.0 C62.3 38.0 61.9 40.0 61.5 42.0 C61.1 44.0 60.7 46.0 60.4 47.9 C60.1 49.8 59.8 51.6 59.5 53.5 C59.3 55.4 58.9 57.4 58.7 59.1 C58.5 60.9 58.3 62.4 58.2 64.0 C58.1 65.6 58.0 67.8 57.9 68.5" stroke-width="6.4"/><path d="M64.7 21.5 C64.6 22.6 64.3 25.8 64.1 27.9 C63.8 30.0 63.5 32.0 63.1 34.0 C62.7 36.0 62.3 38.0 61.9 40.0 C61.5 42.0 61.0 44.1 60.7 46.0 C60.4 47.9 60.1 49.8 59.8 51.6 C59.5 53.5 59.2 55.4 59.0 57.2 C58.7 59.1 58.4 61.4 58.3 62.5 C58.2 63.6 58.2 63.8 58.2 64.0" stroke-width="7.5"/><path d="M64.1 27.9 C63.9 28.9 63.5 32.0 63.1 34.0 C62.7 36.0 62.3 38.0 61.9 40.0 C61.5 42.0 61.0 44.1 60.7 46.0 C60.4 47.9 60.1 49.8 59.8 51.6 C59.5 53.5 59.2 56.0 59.0 57.2 C58.8 58.5 58.7 58.8 58.7 59.1" stroke-width="8.1"/></g><g opacity="0.13"><path d="M8.2 16.0 C8.2 17.1 8.2 20.5 8.1 22.8 C8.1 25.0 8.1 27.6 8.1 29.5 C8.0 31.4 8.0 33.2 8.0 34.0" stroke-width="4.6"/><path d="M8.2 18.2 C8.2 19.4 8.1 22.8 8.1 25.0 C8.1 27.2 8.0 30.6 8.0 31.8" stroke-width="6.4"/><path d="M8.1 20.5 C8.1 21.6 8.1 25.8 8.1 27.2 C8.1 28.8 8.1 29.1 8.1 29.5" stroke-width="7.5"/><path d="M8.1 20.5 C8.1 21.6 8.1 25.8 8.1 27.2 C8.1 28.8 8.1 29.1 8.1 29.5" stroke-width="8.1"/></g><g opacity="0.41"><path d="M18.4 17.0 C18.3 18.6 18.2 23.2 18.1 26.4 C18.0 29.5 17.9 32.7 17.8 35.8 C17.7 38.8 17.6 41.9 17.6 44.9 C17.6 47.8 17.7 50.6 17.7 53.5 C17.7 56.4 17.8 60.2 17.8 62.1 C17.8 64.0 17.8 64.5 17.8 65.0" stroke-width="4.6"/><path d="M18.3 20.1 C18.2 21.7 18.1 26.4 18.0 29.5 C17.9 32.6 17.8 35.8 17.7 38.9 C17.6 41.9 17.6 44.8 17.7 47.8 C17.7 50.7 17.7 54.5 17.7 56.4 C17.7 58.3 17.7 58.8 17.8 59.2" stroke-width="6.4"/><path d="M18.2 23.2 C18.1 24.8 18.0 29.5 17.9 32.6 C17.8 35.8 17.6 39.0 17.6 42.0 C17.6 45.0 17.7 48.2 17.7 50.6 C17.7 53.0 17.7 55.4 17.7 56.4" stroke-width="7.5"/><path d="M18.0 29.5 C17.9 31.1 17.8 35.8 17.7 38.9 C17.6 41.9 17.7 45.3 17.7 47.8 C17.7 50.2 17.7 52.5 17.7 53.5" stroke-width="8.1"/></g><g opacity="0.43"><path d="M75.6 25.0 C75.5 26.1 75.2 29.2 75.0 31.4 C74.8 33.5 74.7 35.6 74.5 37.8 C74.2 39.9 74.0 42.1 73.6 44.4 C73.2 46.7 72.6 49.1 72.1 51.5 C71.6 53.9 71.0 56.7 70.6 58.6 C70.2 60.5 69.9 61.8 69.6 63.0 C69.3 64.2 69.0 65.0 68.8 66.0 C68.5 67.0 68.1 68.5 68.0 69.0" stroke-width="4.6"/><path d="M75.2 29.2 C75.1 30.3 74.8 33.5 74.7 35.6 C74.5 37.8 74.4 39.8 74.1 42.0 C73.8 44.2 73.1 46.8 72.6 49.1 C72.1 51.5 71.6 54.1 71.1 56.2 C70.6 58.4 70.2 60.5 69.8 62.0 C69.5 63.5 69.2 64.3 69.0 65.0 C68.9 65.7 68.8 65.8 68.8 66.0" stroke-width="6.4"/><path d="M75.0 31.4 C74.9 32.4 74.7 35.6 74.5 37.8 C74.2 39.9 74.0 42.1 73.6 44.4 C73.2 46.7 72.6 49.1 72.1 51.5 C71.6 53.9 71.0 56.7 70.6 58.6 C70.2 60.5 69.7 62.3 69.6 63.0" stroke-width="7.5"/><path d="M74.7 35.6 C74.6 36.7 74.4 39.8 74.1 42.0 C73.8 44.2 73.1 46.8 72.6 49.1 C72.1 51.5 71.4 54.7 71.1 56.2 C70.8 57.8 70.7 58.2 70.6 58.6" stroke-width="8.1"/></g><g opacity="0.60"><path d="M29.9 19.6 C29.8 21.1 29.7 25.5 29.6 28.2 C29.5 31.0 29.5 33.7 29.5 36.0 C29.5 38.3 29.7 40.0 29.8 42.0 C29.9 44.0 30.0 46.2 30.1 48.0 C30.2 49.8 30.3 51.3 30.4 52.8 C30.5 54.2 30.6 55.5 30.7 56.9 C30.8 58.2 30.9 60.1 31.0 61.0 C31.1 61.9 31.0 62.2 31.0 62.5" stroke-width="3.4"/><path d="M29.8 22.5 C29.7 23.9 29.5 28.5 29.5 31.1 C29.5 33.7 29.5 35.9 29.6 38.0 C29.7 40.1 29.8 42.0 29.9 44.0 C30.0 46.0 30.1 48.3 30.2 50.0 C30.3 51.7 30.4 52.8 30.5 54.1 C30.6 55.5 30.8 57.6 30.8 58.2" stroke-width="5.5"/><path d="M29.6 28.2 C29.6 29.5 29.5 33.7 29.5 36.0 C29.5 38.3 29.7 40.0 29.8 42.0 C29.9 44.0 30.0 46.2 30.1 48.0 C30.2 49.8 30.3 52.0 30.4 52.8" stroke-width="6.6"/></g><path d="M29.6 28.2 C29.6 29.5 29.5 33.7 29.5 36.0 C29.5 38.3 29.7 40.0 29.8 42.0 C29.9 44.0 30.0 46.2 30.1 48.0 C30.2 49.8 30.3 52.0 30.4 52.8" stroke-width="4.1" stroke-opacity="0.48"/><g opacity="0.55"><path d="M41.9 17.0 C41.8 18.1 41.5 21.8 41.3 23.8 C41.1 25.8 41.1 27.4 41.0 29.0 C40.9 30.6 40.9 32.0 40.8 33.5 C40.7 35.0 40.5 36.8 40.6 38.0 C40.7 39.2 41.3 40.0 41.5 40.6 C41.7 41.2 41.8 41.4 41.8 41.5" stroke-width="3.4"/><path d="M41.7 19.2 C41.6 20.4 41.2 24.1 41.1 26.0 C41.0 27.9 41.0 29.0 40.9 30.5 C40.9 32.0 40.7 33.6 40.7 35.0 C40.7 36.4 40.9 38.2 40.9 38.9" stroke-width="5.5"/><path d="M41.5 21.5 C41.4 22.5 41.1 25.8 41.0 27.5 C40.9 29.2 40.9 30.5 40.9 32.0 C40.8 33.5 40.7 35.8 40.7 36.5" stroke-width="6.6"/></g><path d="M41.5 21.5 C41.4 22.5 41.1 25.8 41.0 27.5 C40.9 29.2 40.9 30.5 40.9 32.0 C40.8 33.5 40.7 35.8 40.7 36.5" stroke-width="4.1" stroke-opacity="0.44"/><g opacity="0.52"><path d="M54.3 16.8 C54.2 17.6 54.0 20.1 53.7 22.0 C53.4 23.9 52.7 26.0 52.2 28.0 C51.8 30.0 51.3 32.2 50.8 34.0 C50.3 35.8 49.8 37.7 49.2 39.0 C48.7 40.3 48.1 41.0 47.6 42.0 C47.0 43.0 46.4 44.0 45.9 45.0 C45.5 46.0 45.3 47.0 45.1 48.0 C44.9 49.0 44.9 50.0 44.7 51.0 C44.6 52.0 44.4 52.8 44.3 54.0 C44.2 55.2 44.3 56.8 44.3 58.1 C44.3 59.5 44.3 60.9 44.3 62.2 C44.3 63.6 44.3 65.0 44.2 66.2 C44.1 67.5 43.9 69.4 43.9 70.0" stroke-width="3.4"/><path d="M53.7 22.0 C53.5 23.0 52.7 26.0 52.2 28.0 C51.8 30.0 51.3 32.2 50.8 34.0 C50.3 35.8 49.8 37.7 49.2 39.0 C48.7 40.3 48.1 41.0 47.6 42.0 C47.0 43.0 46.4 44.0 45.9 45.0 C45.5 46.0 45.3 47.0 45.1 48.0 C44.9 49.0 44.9 50.0 44.7 51.0 C44.6 52.0 44.4 52.8 44.3 54.0 C44.2 55.2 44.3 56.8 44.3 58.1 C44.3 59.5 44.3 61.1 44.3 62.2 C44.3 63.4 44.3 64.5 44.3 65.0" stroke-width="5.5"/><path d="M52.2 28.0 C52.0 29.0 51.3 32.2 50.8 34.0 C50.3 35.8 49.8 37.7 49.2 39.0 C48.7 40.3 48.1 41.0 47.6 42.0 C47.0 43.0 46.4 44.0 45.9 45.0 C45.5 46.0 45.3 47.0 45.1 48.0 C44.9 49.0 44.9 50.0 44.7 51.0 C44.6 52.0 44.4 52.8 44.3 54.0 C44.2 55.2 44.3 57.4 44.3 58.1" stroke-width="6.6"/></g><path d="M52.2 28.0 C52.0 29.0 51.3 32.2 50.8 34.0 C50.3 35.8 49.8 37.7 49.2 39.0 C48.7 40.3 48.1 41.0 47.6 42.0 C47.0 43.0 46.4 44.0 45.9 45.0 C45.5 46.0 45.3 47.0 45.1 48.0 C44.9 49.0 44.9 50.0 44.7 51.0 C44.6 52.0 44.4 52.8 44.3 54.0 C44.2 55.2 44.3 57.4 44.3 58.1" stroke-width="4.1" stroke-opacity="0.42"/><g opacity="0.57"><path d="M64.7 21.5 C64.6 22.6 64.3 25.8 64.1 27.9 C63.8 30.0 63.5 32.0 63.1 34.0 C62.7 36.0 62.3 38.0 61.9 40.0 C61.5 42.0 61.0 44.1 60.7 46.0 C60.4 47.9 60.1 49.8 59.8 51.6 C59.5 53.5 59.2 55.4 59.0 57.2 C58.7 59.1 58.5 60.9 58.3 62.5 C58.1 64.1 58.0 66.2 58.0 67.0" stroke-width="3.4"/><path d="M64.3 25.8 C64.1 26.8 63.8 30.0 63.5 32.0 C63.2 34.0 62.7 36.0 62.3 38.0 C61.9 40.0 61.5 42.0 61.1 44.0 C60.7 46.0 60.4 47.9 60.1 49.8 C59.8 51.6 59.6 53.5 59.3 55.4 C59.0 57.2 58.6 59.8 58.4 61.0 C58.2 62.2 58.3 62.2 58.3 62.5" stroke-width="5.5"/><path d="M63.5 32.0 C63.3 33.0 62.7 36.0 62.3 38.0 C61.9 40.0 61.5 42.0 61.1 44.0 C60.7 46.0 60.4 47.9 60.1 49.8 C59.8 51.6 59.5 54.1 59.3 55.4 C59.1 56.6 59.0 56.9 59.0 57.2" stroke-width="6.6"/></g><path d="M63.5 32.0 C63.3 33.0 62.7 36.0 62.3 38.0 C61.9 40.0 61.5 42.0 61.1 44.0 C60.7 46.0 60.4 47.9 60.1 49.8 C59.8 51.6 59.5 54.1 59.3 55.4 C59.1 56.6 59.0 56.9 59.0 57.2" stroke-width="4.1" stroke-opacity="0.46"/></g><rect width="89" height="82" fill="url(#env)"/></g>
</defs>
<rect width="1894" height="1174" fill="#fff"/>
<g id="walls" fill="#f4e6e6" stroke="none">
<polygon points="160.0,597.5 625.7,355.1 625.7,3.4 160.0,243.5"/>
<polygon points="625.7,355.1 1490.0,486.8 1490.0,135.1 625.7,3.4"/>
<polygon points="160.0,597.5 1024.3,729.2 1490.0,486.8 625.7,355.1"/>
</g>
<g id="grid" class="dot">
<line x1="160.0" y1="597.5" x2="625.7" y2="355.1" />
<line x1="625.7" y1="355.1" x2="1490.0" y2="486.8" />
<line x1="160.0" y1="509.0" x2="625.7" y2="267.2" />
<line x1="625.7" y1="267.2" x2="1490.0" y2="398.9" />
<line x1="160.0" y1="420.5" x2="625.7" y2="179.3" />
<line x1="625.7" y1="179.3" x2="1490.0" y2="311.0" />
<line x1="160.0" y1="332.0" x2="625.7" y2="91.3" />
<line x1="625.7" y1="91.3" x2="1490.0" y2="223.0" />
<line x1="160.0" y1="243.5" x2="625.7" y2="3.4" />
<line x1="625.7" y1="3.4" x2="1490.0" y2="135.1" />
<line x1="625.7" y1="3.4" x2="625.7" y2="355.1" />
<line x1="392.9" y1="123.4" x2="392.9" y2="476.3" />
<line x1="256.0" y1="612.1" x2="721.7" y2="369.7" />
<line x1="721.7" y1="18.0" x2="721.7" y2="369.7" />
<line x1="452.3" y1="642.0" x2="918.0" y2="399.6" />
<line x1="918.0" y1="47.9" x2="918.0" y2="399.6" />
<line x1="581.0" y1="661.7" x2="1046.7" y2="419.3" />
<line x1="1046.7" y1="67.6" x2="1046.7" y2="419.3" />
<line x1="645.4" y1="671.5" x2="1111.1" y2="429.1" />
<line x1="1111.1" y1="77.4" x2="1111.1" y2="429.1" />
<line x1="770.9" y1="690.6" x2="1236.6" y2="448.2" />
<line x1="1236.6" y1="96.5" x2="1236.6" y2="448.2" />
<line x1="964.0" y1="720.0" x2="1429.7" y2="477.6" />
<line x1="1429.7" y1="125.9" x2="1429.7" y2="477.6" />
</g>
<g id="axes" stroke="#000" fill="none" stroke-linecap="butt">
<line x1="158.8" y1="242.5" x2="158.8" y2="599.5" stroke-width="6.1"/>
<line x1="138.3" y1="595.9" x2="160.5" y2="599.2" stroke-width="6"/>
<line x1="138.3" y1="507.4" x2="160.5" y2="510.7" stroke-width="6"/>
<line x1="138.3" y1="418.9" x2="160.5" y2="422.2" stroke-width="6"/>
<line x1="138.3" y1="330.4" x2="160.5" y2="333.7" stroke-width="6"/>
<line x1="138.3" y1="241.9" x2="160.5" y2="245.2" stroke-width="6"/>
<line x1="159.0" y1="597.6" x2="1040.3" y2="731.9" stroke-width="4.6"/>
<line x1="257.5" y1="612.7" x2="235.5" y2="623.1" stroke-width="5.6"/>
<line x1="453.8" y1="642.6" x2="431.8" y2="653.0" stroke-width="5.6"/>
<line x1="582.5" y1="662.3" x2="560.5" y2="672.7" stroke-width="5.6"/>
<line x1="646.9" y1="672.1" x2="624.9" y2="682.5" stroke-width="5.6"/>
<line x1="772.4" y1="691.2" x2="750.4" y2="701.6" stroke-width="5.6"/>
<line x1="965.5" y1="720.6" x2="943.5" y2="731.0" stroke-width="5.6"/>
<line x1="1025.8" y1="729.4" x2="1488.5" y2="486.8" stroke-width="6.6"/>
<line x1="1486.0" y1="484.8" x2="1507.5" y2="489.4" stroke-width="6"/>
</g>
<g id="red">
<polygon fill="#dc2a1a" stroke="#dc2a1a" stroke-width="3.2" stroke-linejoin="miter" stroke-miterlimit="2.5"  points="601.2,351.4 601.2,352.0 601.7,352.1 603.0,359.3 603.2,360.3 603.7,360.2 604.0,359.8 605.2,352.3 605.5,351.7 606.7,352.6 607.0,354.4 607.7,362.5 608.0,364.6 608.2,363.5 609.2,353.1 610.2,352.9 610.7,353.3 611.5,355.5 612.0,357.1 612.2,357.0 613.2,353.6 614.5,352.8 616.2,353.4 616.5,354.8 617.2,360.9 617.5,362.5 617.7,361.6 618.7,353.3 620.0,345.2 620.2,344.2 620.7,344.5 621.0,345.1 622.2,353.9 622.5,354.6 623.7,354.7 624.0,356.0 624.7,362.3 625.0,364.1 625.2,363.3 626.2,355.4 628.7,355.7 630.2,355.8 632.2,356.7 634.2,356.6 634.5,353.8 635.2,340.1 635.5,336.5 635.7,338.2 636.7,356.4 637.0,356.5 638.2,330.3 638.5,327.0 638.7,328.3 640.0,355.5 640.2,357.5 641.5,357.3 643.0,356.6 644.0,357.2 645.2,366.9 645.5,368.1 648.2,368.7 650.5,368.9 655.5,369.8 655.7,369.4 657.0,360.3 657.2,359.5 658.5,359.0 661.0,360.5 666.0,360.6 667.2,360.3 667.7,357.9 668.7,352.4 669.0,352.6 670.2,361.2 670.5,362.2 671.7,362.4 673.7,361.1 676.0,363.5 678.2,363.3 678.5,364.9 679.5,373.4 679.7,375.2 680.0,375.0 681.2,364.1 681.5,362.8 682.7,362.6 685.2,364.8 687.2,365.7 688.2,365.0 688.5,362.0 689.2,347.2 689.5,343.5 689.7,345.6 690.7,365.1 694.0,365.7 697.0,365.8 702.0,366.9 703.7,366.7 706.0,366.6 708.2,367.4 711.2,368.4 711.7,365.5 712.7,359.2 713.0,359.2 714.2,367.4 714.5,368.3 717.2,369.4 719.2,369.7 722.5,369.4 723.0,369.6 723.2,367.9 724.2,350.1 724.5,351.1 725.5,369.5 725.7,370.5 733.2,371.5 735.5,372.9 736.7,371.9 737.7,357.1 738.0,353.7 738.2,351.5 738.7,351.8 739.0,352.8 740.2,371.3 740.5,372.7 741.2,373.0 741.5,371.7 742.2,365.1 742.5,363.2 742.7,364.0 743.7,372.8 745.0,372.9 747.7,373.6 748.0,375.4 748.7,384.1 749.0,386.3 749.2,385.1 750.2,373.7 753.2,373.4 754.0,373.8 755.2,365.7 755.5,364.5 759.7,364.4 760.5,365.2 760.7,365.8 762.0,375.8 762.2,376.4 764.2,376.5 764.5,375.8 765.7,357.8 766.0,356.2 766.5,356.3 766.7,358.1 768.0,376.9 768.2,377.7 768.5,377.8 768.7,378.8 769.7,389.5 770.0,388.9 771.0,377.8 771.2,377.2 773.5,377.0 775.2,377.4 775.5,379.1 776.2,387.4 776.5,389.7 776.7,388.7 777.7,378.3 778.2,378.7 779.2,372.0 779.5,370.6 779.7,371.1 780.7,377.7 781.0,378.2 781.7,377.7 784.2,379.0 788.5,379.8 790.7,381.2 795.0,381.5 795.5,381.2 796.7,372.4 797.0,371.2 799.5,373.0 800.0,373.0 800.2,373.4 801.5,381.5 801.7,382.1 802.5,382.2 802.7,384.0 803.7,393.4 804.0,392.9 805.0,383.6 805.2,382.3 809.2,382.9 809.5,383.4 810.5,393.7 810.7,395.4 811.0,394.0 812.0,384.4 812.2,384.2 813.0,384.6 814.2,377.4 814.5,376.6 817.0,375.2 820.7,375.3 821.5,375.4 821.7,375.9 823.0,384.5 823.2,385.2 826.2,385.9 828.0,385.8 830.2,387.1 835.2,387.4 837.5,386.9 837.7,383.6 838.7,366.5 839.0,367.4 840.0,384.7 840.2,387.1 842.2,387.6 842.5,388.8 843.2,395.0 843.5,396.8 843.7,396.0 844.7,388.2 845.2,388.4 845.5,387.1 846.2,380.4 846.5,378.6 846.7,379.6 847.7,388.8 850.7,389.6 852.0,380.9 852.2,379.9 852.7,380.3 853.0,380.9 854.2,390.7 854.5,391.3 857.2,391.1 859.0,391.2 861.2,390.6 866.0,391.1 867.2,382.3 867.5,381.2 868.5,381.8 868.7,382.4 870.0,391.8 870.2,392.4 874.2,392.0 876.5,393.3 878.7,393.2 883.0,395.2 885.2,394.7 885.5,394.8 886.7,388.2 887.0,387.4 887.2,387.8 888.5,394.8 888.7,395.3 891.7,395.9 892.0,394.8 892.7,389.3 893.0,387.9 893.2,388.6 894.2,396.1 895.5,397.1 895.7,396.0 896.2,388.9 897.0,377.5 897.2,376.4 897.7,376.0 898.0,378.0 898.5,385.0 899.2,395.9 904.0,397.9 905.2,389.3 905.5,388.1 908.5,388.0 908.7,388.4 910.0,397.5 910.2,398.2 914.0,399.1 916.0,400.4 918.5,400.1 919.0,399.9 919.2,397.9 920.2,378.3 920.5,379.4 921.5,398.9 921.7,399.9 923.2,400.7 923.5,402.3 924.5,410.4 924.7,412.0 925.0,412.0 926.2,402.6 926.5,401.5 927.7,401.8 928.2,399.1 929.2,393.2 929.5,393.3 930.7,401.4 931.0,402.3 932.5,401.8 933.7,412.2 934.0,413.7 934.2,413.3 935.5,403.2 935.7,402.5 937.5,402.2 938.7,394.5 939.0,393.6 942.5,395.2 943.0,395.2 943.2,395.6 944.5,403.5 944.7,403.9 946.5,402.9 946.7,402.3 948.0,385.6 948.2,384.3 948.5,386.1 949.7,404.5 950.0,405.1 951.2,414.5 951.5,415.6 953.5,415.0 955.5,415.9 955.7,415.5 957.0,406.3 957.2,405.7 960.0,405.4 962.0,407.4 962.7,407.1 963.0,406.8 964.2,398.2 964.5,397.7 965.0,397.9 965.2,398.8 966.5,407.4 967.5,407.9 971.0,408.2 973.2,407.5 973.5,407.7 974.0,405.1 975.0,399.4 975.7,399.9 977.0,408.6 977.2,409.7 977.7,409.8 979.0,419.0 979.2,420.2 979.7,420.2 980.0,419.6 981.2,409.6 981.5,408.8 983.2,409.0 985.5,410.2 986.2,410.7 988.0,409.4 988.5,406.0 989.2,401.8 989.5,401.0 990.5,401.9 990.7,402.4 992.0,410.9 992.2,411.6 994.2,411.6 994.5,409.7 995.7,382.7 996.0,381.4 997.0,381.3 997.2,384.7 998.5,411.2 999.5,411.2 999.7,409.6 1000.7,392.6 1001.0,393.6 1002.0,411.2 1002.2,412.2 1003.0,412.6 1004.2,424.6 1004.5,426.2 1008.5,427.2 1009.5,427.0 1009.7,426.4 1011.0,414.8 1011.2,414.1 1011.7,414.2 1012.0,413.0 1013.2,404.9 1014.5,404.9 1015.7,413.9 1016.0,415.0 1017.5,415.5 1019.0,415.4 1020.2,407.7 1020.5,406.7 1023.5,407.5 1023.7,407.9 1025.0,416.1 1025.2,416.7 1030.0,417.4 1031.2,410.1 1031.5,409.1 1033.0,409.0 1036.2,410.3 1037.2,410.5 1039.5,410.0 1039.7,410.4 1041.0,417.8 1041.2,418.3 1043.7,418.2 1046.2,419.4 1050.5,420.2 1051.7,412.2 1052.0,411.1 1054.0,411.2 1054.2,411.6 1055.5,419.9 1055.7,420.5 1059.5,421.3 1060.0,421.3 1061.2,412.4 1061.5,411.3 1066.2,412.4 1067.5,413.0 1067.7,413.5 1069.0,422.2 1069.2,422.8 1070.7,423.2 1073.0,423.9 1076.5,423.8 1078.7,423.1 1084.0,425.1 1086.2,425.2 1087.5,425.0 1088.7,416.2 1089.0,415.1 1092.5,415.9 1094.0,416.6 1094.2,417.1 1095.5,426.1 1095.7,426.8 1100.0,427.6 1101.2,437.2 1101.5,438.5 1101.7,438.1 1103.0,429.1 1103.2,428.4 1103.7,428.4 1104.0,426.9 1104.7,419.4 1105.0,417.4 1105.2,418.5 1106.2,429.1 1107.5,429.8 1112.0,429.2 1114.0,430.1 1115.0,429.8 1116.2,411.1 1116.5,408.9 1117.5,409.5 1117.7,410.6 1118.7,425.8 1119.0,429.6 1119.2,430.9 1120.5,430.8 1121.7,421.9 1122.0,420.7 1123.0,420.9 1123.2,421.4 1124.5,431.0 1124.7,431.8 1125.5,431.9 1126.7,424.9 1127.0,424.0 1127.2,424.2 1128.5,430.5 1128.7,430.9 1129.2,430.5 1131.7,432.7 1136.0,433.3 1137.2,443.9 1137.5,445.3 1137.7,444.7 1139.0,434.2 1139.2,433.5 1139.7,433.5 1140.0,430.6 1141.0,414.8 1141.2,411.5 1142.5,411.6 1143.7,431.5 1144.0,433.7 1148.0,435.0 1153.2,436.4 1153.5,438.1 1154.5,446.6 1154.7,448.4 1156.0,448.2 1157.2,437.2 1157.5,436.0 1161.0,436.5 1165.0,437.0 1166.7,437.7 1169.0,436.9 1169.2,437.1 1170.5,430.2 1170.7,429.4 1171.5,430.1 1172.7,438.3 1173.0,439.0 1176.0,439.1 1178.0,438.8 1181.2,440.2 1182.5,431.5 1182.7,430.3 1183.2,430.2 1183.5,430.6 1184.7,439.4 1185.0,440.1 1187.0,440.3 1187.5,440.5 1188.0,422.9 1188.7,395.9 1189.0,390.1 1190.0,390.3 1190.2,392.5 1191.5,438.1 1191.7,441.3 1194.0,441.2 1198.0,442.1 1200.0,443.1 1203.2,443.0 1204.5,443.5 1206.2,444.7 1208.5,443.4 1211.0,444.4 1212.2,435.4 1212.5,434.3 1214.2,433.7 1214.5,433.5 1214.7,433.9 1215.5,439.6 1216.0,443.7 1216.2,444.6 1218.2,445.7 1218.5,444.5 1219.7,427.0 1220.0,426.1 1221.0,426.1 1221.2,428.4 1222.5,446.1 1223.7,446.1 1224.0,444.8 1224.7,438.8 1225.0,437.2 1225.2,438.0 1226.2,446.3 1227.7,446.9 1228.7,440.6 1229.0,439.3 1229.2,440.1 1230.2,447.2 1230.5,447.9 1237.7,448.9 1240.0,448.9 1242.0,449.3 1243.2,440.5 1243.5,439.4 1247.5,440.5 1247.7,440.9 1249.0,449.9 1249.2,450.5 1253.0,450.8 1254.7,450.5 1255.5,451.0 1256.7,443.9 1257.0,442.9 1258.0,442.8 1258.2,443.1 1259.5,451.1 1259.7,451.8 1261.0,452.0 1262.2,444.6 1262.5,443.7 1262.7,444.2 1263.7,450.9 1264.0,452.4 1264.2,452.9 1266.0,452.4 1266.2,451.9 1267.5,434.5 1267.7,433.0 1268.7,433.6 1269.0,435.4 1270.0,450.4 1270.2,453.9 1270.5,454.4 1272.5,453.4 1273.7,445.5 1274.0,444.5 1275.0,444.9 1275.2,445.4 1276.5,454.2 1276.7,454.8 1279.0,453.9 1280.5,454.7 1281.7,446.5 1282.0,445.5 1283.5,446.0 1285.7,445.6 1286.0,445.7 1286.2,446.2 1287.5,455.6 1287.7,456.3 1292.2,457.9 1294.5,457.1 1296.7,457.8 1299.2,457.6 1301.0,458.0 1301.2,457.1 1302.2,448.4 1302.5,449.0 1303.5,458.4 1303.7,458.9 1304.7,459.0 1305.7,468.0 1306.0,469.8 1306.2,468.7 1307.2,459.1 1307.5,458.1 1309.0,458.4 1310.2,449.9 1310.5,448.8 1315.5,450.8 1315.7,451.3 1317.0,460.4 1317.2,461.0 1317.7,461.0 1318.7,470.9 1319.0,472.8 1319.2,471.7 1320.2,461.3 1320.5,460.3 1326.5,462.5 1327.7,474.2 1328.0,475.7 1329.7,475.5 1330.0,475.6 1330.2,475.2 1331.5,464.1 1331.7,463.3 1332.0,463.3 1333.2,445.9 1333.5,443.7 1333.7,444.5 1335.0,461.9 1335.2,463.1 1336.5,463.1 1337.7,455.2 1338.0,454.2 1338.2,454.6 1339.5,463.1 1339.7,463.8 1340.2,464.0 1341.2,474.3 1341.5,476.4 1341.7,475.4 1342.7,465.6 1343.0,464.7 1346.2,464.4 1347.2,464.3 1348.7,465.0 1349.7,475.6 1350.0,477.7 1350.2,476.9 1351.2,467.4 1351.5,466.6 1353.7,465.4 1356.0,466.3 1358.0,464.9 1358.5,465.4 1359.7,450.0 1360.0,448.2 1360.7,448.5 1364.0,448.9 1364.2,449.8 1365.5,466.8 1365.7,468.0 1367.2,468.1 1368.2,461.9 1368.5,460.6 1368.7,461.4 1369.7,468.5 1370.0,469.2 1373.7,470.2 1376.0,469.7 1379.0,470.4 1380.0,448.6 1380.2,443.0 1380.5,439.3 1381.5,438.8 1381.7,440.0 1382.5,456.4 1383.0,467.7 1383.2,469.8 1385.2,470.5 1387.2,470.9 1389.2,471.8 1391.7,471.9 1396.2,472.6 1396.7,472.6 1397.0,474.2 1398.0,483.2 1398.2,485.1 1402.5,485.9 1403.7,475.0 1404.0,473.8 1406.5,475.0 1407.7,455.5 1408.0,453.0 1410.0,452.8 1410.2,453.7 1411.5,473.5 1411.7,475.0 1415.7,475.9 1417.7,475.9 1420.2,476.8 1422.7,476.7 1424.2,476.5 1426.5,477.4 1428.7,476.9 1431.7,477.7 1432.5,477.8 1433.7,468.6 1434.0,467.4 1435.2,467.7 1437.0,469.4 1437.2,470.1 1438.5,479.0 1438.7,479.6 1439.7,479.5 1442.0,480.3 1447.2,480.1 1448.5,480.0 1450.7,480.9 1452.7,480.4 1453.2,480.8 1454.2,491.5 1454.5,493.7 1454.7,492.8 1455.7,482.9 1456.0,482.0 1456.5,482.0 1457.7,472.3 1458.0,471.1 1459.0,471.2 1459.2,471.7 1460.5,481.5 1460.7,482.1 1462.5,482.5 1463.0,482.7 1464.2,492.9 1464.5,494.2 1469.0,495.2 1470.5,495.6 1471.5,495.1 1471.7,494.5 1472.7,486.4 1473.0,484.5 1473.2,483.8 1476.5,484.7 1477.7,495.5 1478.0,497.0 1478.2,496.5 1479.5,486.1 1479.7,485.4 1482.0,486.1 1483.2,477.3 1483.5,476.2 1484.5,476.0 1484.7,476.4 1486.0,485.4 1486.2,486.2 1488.0,487.1 1488.0,486.7"/>
<polygon fill="#dc2a1a" stroke="#dc2a1a" stroke-width="3.5" stroke-linejoin="miter" stroke-miterlimit="2.5"  points="713.1,368.4 715.0,365.7 716.2,360.4 717.1,347.4 717.7,319.4 718.4,259.4 719.4,173.8 721.2,173.8 721.6,259.4 721.9,319.4 722.3,347.4 723.0,360.4 724.2,367.1 726.1,370.4"/>
<polygon fill="#dc2a1a" stroke="#dc2a1a" stroke-width="3.5" stroke-linejoin="miter" stroke-miterlimit="2.5"  points="908.7,398.3 910.6,395.6 911.8,390.3 912.6,377.3 913.2,349.3 913.7,289.3 914.6,120.2 916.4,120.2 916.9,289.3 917.4,349.3 917.8,377.3 918.6,390.3 919.8,397.0 921.7,400.3"/>
<polygon fill="#dc2a1a" stroke="#dc2a1a" stroke-width="3.5" stroke-linejoin="miter" stroke-miterlimit="2.5"  points="1039.4,418.2 1041.3,415.5 1042.5,410.2 1043.4,397.2 1044.0,369.2 1044.6,309.2 1045.7,192.6 1047.5,192.6 1047.8,309.2 1048.2,369.2 1048.6,397.2 1049.3,410.2 1050.5,416.9 1052.4,420.2"/>
<polygon fill="#dc2a1a" stroke="#dc2a1a" stroke-width="3.5" stroke-linejoin="miter" stroke-miterlimit="2.5"  points="1104.0,428.1 1105.9,425.4 1107.1,420.1 1108.0,407.1 1108.5,379.1 1109.2,319.1 1110.2,212.7 1112.0,212.7 1112.4,319.1 1112.7,379.1 1113.2,407.1 1113.9,420.1 1115.1,426.8 1117.0,430.1"/>
<polygon fill="#dc2a1a" stroke="#dc2a1a" stroke-width="3.5" stroke-linejoin="miter" stroke-miterlimit="2.5"  points="1231.1,447.5 1233.0,444.8 1234.2,439.5 1235.0,426.5 1235.5,398.5 1236.0,338.5 1236.8,97.1 1238.6,97.1 1239.2,338.5 1239.7,398.5 1240.2,426.5 1241.0,439.5 1242.2,446.2 1244.1,449.5"/>
<polygon fill="#dc2a1a" stroke="#dc2a1a" stroke-width="3.5" stroke-linejoin="miter" stroke-miterlimit="2.5"  points="1421.1,476.5 1423.0,473.8 1424.2,468.5 1425.1,455.5 1425.7,427.5 1426.4,367.5 1427.7,210.2 1429.5,210.2 1429.6,367.5 1429.9,427.5 1430.3,455.5 1431.0,468.5 1432.2,475.2 1434.1,478.5"/>
</g>
<g id="green">
<polygon fill="#0a8739" stroke="#0a8739" stroke-width="3.2" stroke-linejoin="miter" stroke-miterlimit="2.5"  points="365.2,472.3 365.2,472.4 365.7,472.4 366.7,466.2 366.9,464.9 367.2,465.5 368.2,472.1 368.4,472.7 374.7,474.1 375.7,474.1 375.9,473.4 376.9,469.0 377.2,469.4 378.2,473.8 378.7,475.0 379.4,477.1 379.7,476.9 380.9,473.8 381.9,469.5 382.2,469.9 383.2,474.6 386.9,475.4 387.2,475.5 388.4,462.4 388.7,460.8 389.2,460.9 389.4,461.6 390.7,475.7 390.9,476.8 391.2,477.0 391.4,476.4 392.4,471.8 392.7,472.2 393.7,476.3 394.2,477.4 394.9,479.5 395.2,479.3 396.2,476.8 396.7,479.4 397.7,485.0 397.9,485.0 399.2,478.6 399.4,477.9 401.2,478.7 403.2,478.9 403.4,478.0 404.7,465.4 404.9,464.8 405.9,464.9 406.2,466.5 407.4,478.9 408.2,478.9 408.4,478.2 409.2,474.8 409.4,474.0 409.7,474.5 410.4,478.1 410.7,480.6 411.7,486.5 411.9,487.4 414.2,487.7 414.9,488.0 415.2,487.8 416.4,480.9 416.7,480.3 420.4,480.6 422.7,481.3 423.7,480.9 423.9,481.4 424.9,487.3 425.2,488.9 425.7,489.5 426.4,489.8 426.7,489.0 427.7,482.9 427.9,480.3 428.9,475.3 429.2,474.6 429.9,475.3 431.2,482.3 431.4,482.8 436.9,483.4 437.2,482.5 438.4,469.6 438.7,469.0 440.2,469.0 440.4,470.7 441.7,483.9 442.4,484.1 442.7,483.6 443.7,478.5 443.9,478.8 444.9,484.6 445.7,485.0 449.4,485.2 451.2,485.0 453.4,486.2 454.9,486.1 456.2,480.4 456.4,479.6 456.7,479.9 457.9,486.1 458.2,486.6 459.9,487.5 464.2,486.8 466.4,488.8 469.4,488.4 473.4,489.2 475.7,489.1 479.7,490.6 480.4,490.3 481.7,483.6 481.9,482.8 482.2,483.2 483.4,489.6 483.7,490.1 488.9,490.7 493.4,492.1 494.7,489.2 495.4,488.7 497.2,488.4 498.4,492.5 499.4,493.2 503.2,494.0 506.7,494.4 507.4,491.3 508.2,488.0 508.4,488.0 509.7,493.5 509.9,494.1 510.2,494.0 510.9,498.7 511.4,502.0 511.7,503.1 512.2,503.6 512.5,503.5 513.7,496.5 514.0,496.0 515.5,495.8 516.7,489.3 517.0,488.5 519.0,488.2 519.2,488.5 520.5,495.2 520.7,495.7 523.7,497.6 525.0,505.9 525.2,507.0 525.7,507.2 526.0,506.7 527.2,498.1 527.5,497.4 528.2,497.2 529.5,497.7 530.0,495.5 531.0,490.7 532.7,491.0 534.0,497.3 534.2,497.9 537.5,498.3 541.0,499.2 543.7,499.7 545.0,507.6 545.2,508.2 551.5,509.6 552.2,509.7 552.5,509.2 553.7,501.9 554.7,502.0 555.0,501.9 555.7,498.3 556.5,494.6 557.2,494.7 558.5,500.8 558.7,501.5 561.5,502.4 563.5,503.6 565.0,503.4 565.2,502.0 566.5,489.3 567.7,489.0 568.2,494.0 569.0,502.1 569.2,504.2 570.2,504.5 574.5,504.0 575.0,504.4 576.2,499.9 576.5,499.3 578.7,498.3 579.7,498.9 581.0,504.8 581.5,505.3 584.5,505.9 586.7,506.0 587.0,505.0 588.2,491.0 588.5,490.4 589.5,490.6 589.7,492.5 591.0,506.6 592.2,506.7 593.0,507.2 594.2,501.6 594.5,500.8 595.5,500.9 595.7,501.2 597.0,507.4 597.2,507.8 599.0,507.8 602.7,509.2 604.0,515.6 604.2,516.3 604.7,516.2 605.0,515.8 606.2,509.2 606.5,508.7 607.7,509.0 611.2,510.7 615.5,510.8 618.7,511.2 620.5,510.8 622.7,512.3 623.7,511.9 625.0,518.7 625.2,519.8 627.2,521.1 630.7,521.0 631.0,520.6 632.2,513.4 632.5,512.9 634.2,513.1 635.5,500.0 635.7,498.4 637.2,498.8 637.5,499.5 638.7,513.2 639.0,514.2 640.0,514.4 641.2,508.4 641.5,507.6 645.5,508.2 645.7,508.6 647.0,515.2 647.2,515.6 652.2,516.2 654.7,516.5 655.5,513.0 656.2,509.6 656.5,509.7 657.7,516.2 658.0,516.9 660.2,516.7 663.7,518.2 664.0,517.9 665.2,504.7 665.5,503.6 667.0,503.8 667.2,505.0 668.5,518.5 668.7,518.9 671.5,519.0 673.7,519.7 676.2,519.6 677.2,508.6 677.5,506.4 677.7,507.5 678.7,519.6 679.0,520.9 680.0,521.8 685.0,521.2 690.5,522.4 691.7,517.1 692.0,516.4 694.5,516.6 697.5,517.5 699.7,516.5 701.0,517.3 701.2,517.7 702.5,523.6 703.0,524.2 705.7,524.7 708.0,525.0 709.2,518.1 709.5,517.2 711.0,517.6 713.0,519.0 716.5,518.0 716.7,518.3 717.5,522.6 718.0,525.8 718.2,526.5 719.7,527.2 724.7,527.0 728.5,527.5 730.5,529.2 730.7,529.2 732.0,536.1 732.2,536.9 733.0,536.6 734.2,529.6 734.5,529.1 739.2,529.2 741.5,531.4 743.7,529.9 744.0,530.1 744.5,528.1 745.5,523.7 746.2,523.9 747.5,530.1 747.7,530.8 749.2,531.5 750.5,532.1 751.2,528.5 752.0,524.7 755.0,524.6 755.7,525.0 757.0,531.8 757.2,532.5 760.7,532.7 761.7,527.8 762.0,526.9 762.2,527.5 763.2,532.8 763.5,533.4 764.0,533.5 764.2,532.7 765.5,506.1 765.7,503.8 766.7,503.6 767.0,505.9 768.2,532.6 768.5,533.5 772.2,534.9 774.5,533.8 776.7,536.0 778.2,535.5 779.5,544.1 779.7,543.5 780.7,536.8 781.0,536.2 782.2,523.0 782.5,521.3 783.5,521.4 783.7,522.0 785.0,535.5 785.2,536.4 786.0,536.6 787.5,532.0 788.2,532.1 789.5,536.6 789.7,537.1 792.0,538.5 792.2,539.4 793.5,546.7 793.7,546.8 794.5,542.8 795.0,539.7 795.2,538.6 796.7,538.3 799.5,539.4 803.2,540.1 805.5,539.3 806.0,539.4 807.2,533.5 807.5,532.8 809.5,532.8 809.7,533.1 811.0,540.3 811.2,540.9 812.2,541.3 813.0,521.2 813.5,507.6 813.7,503.2 816.2,504.1 816.5,505.7 817.7,539.2 818.0,541.6 820.7,541.5 823.0,542.9 825.2,542.2 825.7,542.3 826.0,543.3 827.2,551.7 828.0,552.0 829.0,546.3 829.5,543.7 830.5,544.2 832.0,536.7 834.0,535.6 834.2,536.1 835.5,543.8 835.7,544.5 838.7,545.2 842.2,545.3 845.0,545.3 847.2,546.7 849.7,546.1 854.0,546.7 857.2,548.1 858.7,548.1 860.5,547.9 861.0,548.0 862.2,535.2 862.5,533.6 863.5,533.7 863.7,534.4 865.0,547.9 865.2,548.8 867.0,548.7 871.2,551.1 873.7,550.6 874.2,550.9 875.2,543.1 875.5,541.5 875.7,542.4 876.7,550.3 877.0,551.0 878.2,550.7 883.0,552.0 884.7,552.0 885.7,541.1 886.0,538.9 886.2,540.0 887.2,551.1 887.5,552.2 888.0,552.4 889.2,546.4 889.5,545.5 891.2,545.4 893.5,546.4 895.5,546.2 895.7,546.5 897.0,552.8 897.2,553.3 900.2,553.8 902.2,555.0 904.2,554.6 906.7,556.3 908.5,556.3 908.7,554.3 909.7,544.3 910.0,542.2 911.0,542.4 911.7,542.1 913.0,554.4 913.2,556.0 914.5,556.8 915.5,553.8 916.0,552.2 917.2,552.3 918.5,556.9 919.0,557.4 922.7,557.8 924.0,551.9 924.2,551.4 925.2,551.3 925.5,551.9 926.7,558.0 927.2,558.1 928.5,565.9 928.7,567.0 931.0,568.1 932.2,568.1 932.5,567.8 933.7,559.8 934.0,559.2 936.0,559.7 937.5,560.3 937.7,558.5 938.7,548.9 939.0,546.9 940.7,547.2 942.0,559.6 942.2,560.9 944.0,560.7 945.5,561.8 946.0,560.0 947.0,555.2 948.7,555.0 950.0,561.0 950.2,561.7 951.7,561.9 952.5,563.8 953.0,565.2 953.2,565.0 954.2,562.6 956.7,562.7 958.0,523.5 958.2,518.5 959.7,519.0 960.0,521.0 961.2,561.4 961.5,564.4 964.5,564.9 967.7,564.4 968.0,563.6 968.7,559.8 969.0,558.8 969.2,559.5 970.2,565.4 971.0,565.6 971.5,568.4 972.5,574.5 973.2,574.5 974.5,567.1 974.7,566.3 976.0,566.7 977.5,564.8 978.2,565.5 979.5,566.8 981.2,567.4 982.5,574.7 982.7,575.6 983.2,575.5 983.5,575.2 984.7,568.6 985.0,568.2 985.7,568.7 987.7,567.7 989.0,561.9 989.2,561.2 992.2,562.5 994.5,561.5 996.7,562.4 997.0,562.9 998.2,569.9 998.5,570.5 1000.0,570.5 1001.2,573.3 1001.5,573.2 1002.5,570.5 1003.0,570.1 1004.7,570.6 1005.0,567.3 1006.2,520.9 1006.5,518.7 1007.5,518.5 1007.7,524.5 1008.7,561.8 1009.0,570.7 1010.0,570.9 1011.2,566.7 1011.5,566.2 1015.0,566.7 1016.5,566.6 1016.7,566.9 1018.0,571.7 1018.5,572.2 1020.7,572.7 1021.0,572.0 1021.7,568.5 1022.0,567.5 1022.2,568.3 1023.2,574.2 1024.7,573.4 1025.2,574.3 1026.0,576.2 1026.2,575.9 1027.2,573.3 1028.7,574.0 1029.0,573.4 1030.0,569.5 1030.2,570.0 1031.2,574.7 1032.7,574.5 1033.2,572.8 1034.0,570.0 1034.2,570.6 1035.2,575.2 1036.2,576.2 1037.2,575.8 1038.5,582.5 1038.7,583.3 1039.2,583.2 1039.5,582.8 1040.7,575.4 1041.0,575.1 1043.0,576.7 1047.5,576.2 1049.7,577.4 1050.7,571.6 1051.0,570.4 1051.2,571.0 1052.2,576.9 1052.5,577.4 1053.5,577.5 1053.7,577.1 1055.0,564.4 1055.2,563.3 1056.2,563.8 1056.5,565.0 1057.7,578.3 1058.0,578.7 1058.7,578.8 1059.0,577.9 1059.7,573.9 1060.0,572.8 1060.2,573.4 1061.2,578.9 1062.7,579.0 1063.2,580.6 1064.0,583.4 1064.2,583.1 1065.2,579.8 1066.7,580.1 1067.0,579.3 1067.7,575.5 1068.0,574.4 1068.2,575.1 1069.2,580.9 1070.7,580.9 1071.2,582.3 1072.0,584.8 1072.2,584.4 1073.2,580.6 1074.7,581.0 1075.0,580.2 1075.7,576.4 1076.0,575.4 1076.2,576.0 1077.2,581.8 1078.7,582.2 1079.0,581.6 1080.0,577.4 1080.2,577.9 1081.2,581.8 1082.5,581.1 1084.2,582.0 1084.5,581.7 1085.7,568.6 1086.0,567.5 1087.2,568.1 1087.5,568.3 1087.7,569.7 1088.2,575.5 1089.0,589.2 1089.2,591.3 1089.5,592.9 1089.7,593.8 1090.2,593.5 1090.5,593.0 1091.5,585.8 1091.7,584.1 1092.0,583.6 1094.5,583.7 1096.2,583.8 1100.2,585.1 1100.7,585.1 1102.0,579.0 1102.2,578.2 1103.7,579.2 1104.0,579.7 1104.7,583.6 1105.2,585.9 1105.5,586.2 1107.0,585.7 1108.7,586.2 1109.0,585.5 1109.7,581.7 1110.0,580.7 1110.2,581.4 1111.2,587.1 1112.7,586.6 1113.0,585.8 1114.0,581.5 1114.2,582.0 1115.2,586.5 1116.7,587.7 1117.0,587.1 1118.0,582.5 1118.2,583.0 1119.2,588.5 1120.7,588.4 1121.0,587.7 1122.0,583.3 1122.2,583.8 1123.2,588.5 1124.7,588.9 1125.2,587.5 1126.0,585.2 1126.2,585.6 1127.2,589.6 1128.7,589.9 1129.5,589.5 1130.7,574.6 1131.0,572.8 1133.0,573.6 1133.2,574.5 1134.5,589.6 1134.7,590.8 1137.2,591.5 1137.7,591.3 1139.0,599.1 1139.2,600.0 1140.2,600.0 1142.7,600.5 1144.7,600.7 1145.7,601.1 1146.0,600.8 1147.2,592.9 1147.5,592.4 1148.7,592.9 1149.0,592.9 1149.2,587.9 1150.2,561.3 1150.5,555.7 1152.0,556.7 1152.2,557.1 1153.2,583.9 1153.5,590.5 1153.7,594.1 1159.5,594.0 1162.2,594.9 1162.7,594.9 1164.0,602.5 1164.2,603.5 1168.7,603.9 1169.0,603.6 1170.2,596.1 1170.5,595.6 1174.0,596.5 1175.2,590.1 1175.5,589.2 1177.7,589.2 1180.5,590.2 1180.7,590.6 1182.0,597.6 1182.2,598.1 1187.2,598.5 1187.5,599.1 1188.7,606.9 1189.2,607.3 1190.0,607.3 1190.2,606.4 1191.5,599.1 1195.2,599.7 1195.7,583.8 1196.5,559.6 1196.7,554.5 1198.2,555.1 1198.5,557.1 1199.7,597.8 1200.0,600.7 1203.5,600.4 1204.5,600.7 1204.7,598.8 1205.7,588.4 1206.0,586.2 1207.7,586.8 1209.0,600.2 1209.2,601.7 1211.0,602.2 1214.7,603.5 1217.0,603.1 1219.2,603.7 1221.2,603.4 1224.2,605.0 1224.5,605.4 1225.7,613.4 1226.0,614.0 1227.5,613.7 1227.7,613.0 1229.0,604.8 1229.7,604.3 1234.2,606.4 1239.7,606.3 1243.7,606.9 1245.7,606.8 1250.2,608.1 1252.0,608.1 1252.7,604.6 1253.5,600.9 1255.2,601.3 1256.5,607.9 1256.7,608.7 1259.0,609.2 1261.0,610.3 1265.5,610.2 1266.5,610.6 1266.7,611.6 1268.0,619.7 1269.2,619.6 1270.5,612.1 1270.7,610.9 1273.7,611.3 1274.0,609.4 1275.0,599.5 1275.2,597.4 1276.5,597.6 1277.7,610.0 1278.0,611.3 1279.0,611.5 1279.0,612.6"/>
<polygon fill="#0a8739" stroke="#0a8739" stroke-width="3.8" stroke-linejoin="miter" stroke-miterlimit="2.5"  points="482.1,490.2 484.0,487.5 485.2,482.2 486.0,469.2 486.6,441.2 487.1,381.2 488.0,201.9 489.8,201.9 490.3,381.2 490.8,441.2 491.2,469.2 492.0,482.2 493.2,488.9 495.1,492.2"/>
<polygon fill="#0a8739" stroke="#0a8739" stroke-width="3.8" stroke-linejoin="miter" stroke-miterlimit="2.5"  points="678.1,520.3 680.0,517.6 681.2,512.3 682.1,499.3 682.7,471.3 683.5,411.3 685.3,169.7 687.1,169.7 686.7,411.3 686.9,471.3 687.3,499.3 688.0,512.3 689.2,519.0 691.1,522.3"/>
<polygon fill="#0a8739" stroke="#0a8739" stroke-width="3.8" stroke-linejoin="miter" stroke-miterlimit="2.5"  points="874.3,550.5 876.2,547.7 877.4,542.4 878.2,529.4 878.6,501.4 879.0,441.4 879.3,222.1 881.1,222.1 882.2,441.4 882.8,501.4 883.4,529.4 884.2,542.4 885.4,549.1 887.3,552.4"/>
</g>
<g id="blue">
<polygon fill="#3f4aa8" stroke="#3f4aa8" stroke-width="2.7" stroke-linejoin="miter" stroke-miterlimit="2.5"  points="160.5,597.4 160.5,597.8 161.8,597.7 163.0,595.6 164.2,597.5 164.8,597.5 166.0,599.7 167.2,597.9 167.8,598.1 169.0,596.6 170.2,598.8 174.5,600.0 174.8,597.8 175.8,586.4 176.0,584.1 177.5,584.0 177.8,585.0 179.0,599.3 179.2,600.0 180.0,600.3 181.2,604.6 181.5,604.3 182.5,601.2 183.5,601.0 184.8,599.9 186.2,599.9 187.8,601.8 191.2,602.0 193.0,603.2 194.8,602.7 196.2,606.4 199.8,606.9 200.2,606.0 201.2,603.5 202.5,603.4 204.5,603.9 206.0,598.8 207.5,599.4 207.8,599.9 209.0,605.2 210.2,605.3 213.5,605.5 214.8,609.7 215.0,610.2 217.0,610.4 217.5,609.3 218.5,606.2 220.2,605.9 221.8,606.5 222.5,602.4 223.0,599.4 223.2,598.3 225.2,599.2 225.5,599.8 226.8,607.3 227.5,607.8 228.0,607.9 229.2,612.6 229.5,613.1 230.5,612.8 231.0,611.4 232.0,607.9 241.2,609.9 241.5,609.6 242.8,604.0 243.0,603.6 244.5,603.7 245.5,608.4 246.0,610.7 251.5,611.0 255.2,611.8 255.5,609.9 256.8,594.5 258.0,595.0 258.2,594.9 258.5,595.5 259.8,611.3 260.0,612.7 261.8,613.1 262.5,613.0 263.5,616.1 264.0,617.7 265.5,618.0 265.8,617.8 267.0,614.0 270.8,614.5 272.8,615.3 274.5,615.1 276.0,614.6 280.5,615.9 283.0,616.2 284.8,615.1 286.8,616.5 288.2,619.9 288.8,620.0 290.2,617.5 292.0,618.4 295.0,617.5 300.2,618.8 301.5,613.4 301.8,612.8 303.2,613.0 303.5,613.7 304.8,619.4 308.2,620.3 310.0,619.6 311.8,620.9 313.0,624.5 313.2,624.9 315.2,625.9 315.8,625.6 316.5,623.2 317.2,620.7 319.5,621.7 321.5,621.9 322.8,616.3 323.0,615.7 325.0,616.3 325.2,617.0 326.5,622.9 328.5,623.1 330.2,623.5 334.0,623.5 335.2,623.7 336.5,627.3 337.0,627.8 337.2,627.8 338.0,626.2 338.8,624.2 341.0,624.4 341.8,624.8 343.0,629.1 343.2,629.6 344.8,630.1 345.2,629.0 346.2,626.1 348.5,626.2 350.0,622.5 352.2,622.9 354.0,623.1 354.8,624.8 355.5,626.7 356.8,626.3 358.5,627.9 361.2,627.8 362.8,628.2 364.0,632.3 364.2,632.7 364.8,632.8 365.5,631.0 366.2,628.9 370.0,629.3 371.2,629.7 372.0,629.3 372.2,628.6 373.2,618.4 373.5,616.1 373.8,615.2 375.5,615.8 375.8,615.8 376.0,617.8 377.0,627.8 377.2,629.8 379.2,630.1 382.5,631.2 383.5,631.3 385.0,624.9 386.5,625.1 386.8,625.6 388.0,631.6 389.8,632.4 391.2,633.4 393.5,633.4 394.8,636.8 395.0,637.2 396.0,637.2 397.5,633.6 400.0,634.0 401.2,627.1 401.5,626.3 404.5,627.0 404.8,627.9 406.0,634.9 407.2,635.2 408.8,632.8 411.2,632.5 412.8,635.9 414.8,636.4 416.5,636.3 421.0,637.7 421.8,637.8 423.5,637.2 425.5,638.0 427.8,638.1 429.0,635.6 429.5,635.5 430.8,635.8 432.2,638.9 438.8,640.0 440.2,640.1 442.2,640.2 443.8,640.8 445.2,638.7 447.2,638.6 448.0,639.1 449.2,641.5 450.5,641.6 451.0,642.0 452.2,630.2 452.5,628.7 454.0,628.1 454.5,628.5 454.8,630.1 456.0,643.2 458.0,642.6 459.2,641.8 459.8,642.0 461.5,641.0 463.5,641.5 466.2,642.5 468.0,642.6 469.2,644.4 476.8,645.9 479.2,645.4 482.0,646.5 482.5,643.4 483.2,638.2 483.5,636.8 485.0,637.1 485.2,637.9 486.5,647.2 487.0,647.7 487.5,647.8 488.8,643.8 489.0,644.1 490.0,647.4 492.5,647.7 495.5,648.9 497.2,648.2 499.2,648.8 499.8,648.7 500.0,648.2 501.0,644.0 501.2,643.1 503.5,644.0 504.8,649.6 505.0,650.2 505.8,650.1 507.0,647.5 507.5,647.4 509.8,648.1 511.2,651.2 515.8,651.7 517.8,651.7 522.2,652.7 524.2,652.5 525.8,649.9 527.2,650.6 528.8,653.7 531.5,653.3 532.0,650.0 532.8,644.5 533.0,643.1 534.5,643.7 534.8,644.5 536.0,654.0 536.2,654.3 536.8,654.2 537.2,655.6 538.2,659.1 539.0,659.2 540.2,655.6 540.8,655.6 542.2,656.5 544.2,656.2 545.2,655.6 546.0,656.6 546.8,658.0 548.0,658.4 549.5,658.2 550.8,656.7 551.5,658.7 552.2,661.0 553.0,661.0 554.2,657.2 554.8,656.8 557.0,657.7 558.5,657.8 560.0,655.6 561.8,656.1 563.0,658.0 563.8,657.9 565.8,659.6 567.8,659.7 569.2,659.3 571.0,660.4 573.0,660.3 574.8,660.8 576.5,660.5 578.8,661.0 580.5,661.3 582.2,661.9 583.8,662.1 585.2,663.0 587.2,662.1 596.0,663.8 596.8,663.6 598.0,658.5 598.2,658.1 599.8,659.1 600.0,659.7 601.2,664.8 604.0,664.8 604.5,664.6 605.8,663.3 607.2,663.6 609.2,663.1 611.0,663.6 612.5,664.3 614.2,663.9 615.8,667.2 617.8,666.5 619.5,668.0 621.8,667.6 625.8,668.3 627.2,668.5 629.2,669.2 629.8,669.2 631.2,673.0 631.8,672.3 632.8,669.6 634.0,669.0 636.0,670.0 638.2,670.2 640.2,670.3 641.5,670.5 643.5,671.4 644.5,671.5 644.8,670.0 646.0,657.1 648.0,657.1 648.2,657.6 649.5,671.0 649.8,672.2 655.8,672.5 658.5,672.9 660.2,673.5 665.2,674.6 668.5,675.2 668.8,675.1 669.5,676.8 670.2,679.0 671.0,679.0 672.2,675.9 673.0,676.1 673.8,676.4 674.5,675.9 675.8,669.5 676.0,669.1 678.5,669.7 680.0,676.8 680.8,676.8 682.2,673.5 683.8,674.0 684.8,676.4 685.5,678.8 686.5,682.2 686.8,682.6 687.2,682.4 688.8,678.0 690.0,678.3 691.5,677.7 693.8,678.8 701.0,679.9 703.0,679.8 704.2,679.5 706.2,680.5 714.0,681.4 715.0,681.4 716.8,683.3 718.8,682.8 719.2,682.9 720.5,686.6 720.8,687.0 721.2,686.8 722.8,683.0 723.8,683.5 725.0,677.3 725.2,676.6 726.8,676.6 727.0,677.3 728.2,683.8 729.8,684.3 730.2,684.2 731.5,682.5 733.8,682.7 736.0,682.9 740.0,683.4 742.0,684.4 742.8,684.6 744.2,686.0 746.0,686.5 748.0,686.7 750.0,687.0 751.5,687.4 752.0,687.7 752.2,687.4 753.0,684.2 753.5,681.7 754.5,681.1 755.2,681.6 756.5,687.9 756.8,688.6 760.2,688.8 760.8,689.0 762.5,687.4 763.2,687.2 764.8,689.4 768.0,689.8 772.5,691.1 777.5,691.5 781.8,691.6 784.0,692.6 788.8,693.0 790.8,694.2 795.5,694.0 799.8,695.1 801.2,694.3 802.2,695.5 802.5,695.1 803.0,693.7 803.8,690.0 805.0,689.1 805.5,689.6 806.8,695.7 807.0,696.2 812.5,696.8 814.2,697.5 815.8,694.8 817.2,694.5 818.2,696.3 818.5,696.8 818.8,697.9 820.0,700.7 821.0,699.2 821.5,698.1 823.0,697.6 824.8,699.1 826.0,698.8 826.8,700.9 827.5,703.3 828.0,703.4 828.2,703.2 829.5,699.1 830.0,698.4 831.2,696.7 832.2,697.1 833.8,696.8 835.2,700.3 837.5,701.4 839.5,701.2 841.5,701.6 845.0,701.6 846.8,701.9 848.5,701.6 850.0,702.0 851.2,697.5 851.8,697.3 853.0,697.4 854.5,703.2 856.8,703.7 862.5,704.0 862.8,704.1 864.0,708.5 864.2,709.1 864.8,709.2 865.2,708.0 866.2,705.0 867.0,705.3 867.2,705.0 868.5,700.4 870.2,700.1 871.5,705.2 871.8,705.8 872.8,705.9 874.2,703.5 875.0,703.9 876.2,706.6 881.5,707.6 882.0,709.1 883.0,712.6 884.2,712.7 885.5,708.7 886.0,708.3 887.8,708.1 889.5,709.4 891.8,708.6 895.5,709.2 898.5,710.0 898.8,710.0 899.0,707.3 900.0,694.5 900.2,691.9 902.2,692.3 902.5,693.5 903.8,709.4 904.0,710.1 906.0,711.2 907.5,716.4 909.5,716.2 911.0,716.9 911.2,716.6 912.5,712.3 915.2,712.0 916.5,712.3 916.8,711.7 918.0,706.4 919.2,706.7 920.5,712.6 920.8,713.1 922.2,713.4 923.8,711.3 927.5,712.5 928.5,712.3 929.5,713.7 930.0,714.3 932.0,715.0 933.0,715.3 934.2,719.7 934.8,720.1 939.0,720.5 940.5,716.0 943.8,716.3 945.0,711.2 945.2,710.7 946.8,711.3 947.0,712.0 948.2,717.7 951.2,718.0 952.8,717.8 954.5,718.6 956.2,718.1 959.5,719.2 962.2,719.2 963.5,719.1 966.5,720.3 971.0,721.4 974.5,721.0 975.2,721.2 976.8,718.3 979.5,719.7 980.0,719.6 981.2,721.9 984.0,723.2 985.2,723.7 987.0,723.5 988.8,723.9 990.8,723.5 992.0,723.8 993.5,721.7 994.5,722.2 995.5,724.4 996.0,726.9 997.0,729.7 997.5,729.6 997.8,729.1 999.0,724.5 999.5,724.3 1002.8,725.9 1005.0,725.8 1006.8,726.4 1008.2,726.0 1010.2,727.5 1014.2,726.9 1018.0,728.2 1019.2,728.8 1020.2,728.6 1021.5,722.2 1021.8,721.5 1023.2,721.7 1023.5,722.6 1024.8,729.2 1027.0,729.3 1027.0,729.5"/>
<polygon fill="#3f4aa8" stroke="#3f4aa8" stroke-width="3.4" stroke-linejoin="miter" stroke-miterlimit="2.5"  points="575.8,660.7 577.7,658.0 578.9,652.7 579.7,639.7 580.3,611.7 580.9,551.7 581.9,311.2 583.7,311.2 584.1,551.7 584.5,611.7 584.9,639.7 585.7,652.7 586.9,659.4 588.8,662.7"/>
<polygon fill="#3f4aa8" stroke="#3f4aa8" stroke-width="3.4" stroke-linejoin="miter" stroke-miterlimit="2.5"  points="767.8,690.0 769.7,687.3 770.9,682.0 771.7,669.0 772.1,641.0 772.5,581.0 772.9,426.9 774.7,426.9 775.7,581.0 776.3,641.0 776.9,669.0 777.7,682.0 778.9,688.7 780.8,692.0"/>
<polygon fill="#3f4aa8" stroke="#3f4aa8" stroke-width="3.4" stroke-linejoin="miter" stroke-miterlimit="2.5"  points="957.7,718.9 959.6,716.2 960.8,710.9 961.7,697.9 962.2,669.9 962.9,609.9 964.1,451.6 965.9,451.6 966.1,609.9 966.4,669.9 966.9,697.9 967.6,710.9 968.8,717.6 970.7,720.9"/>
<rect x="1039.7" y="725.3" width="5.3" height="4.6" fill="#3f4aa8"/>
</g>
<g id="labels" font-family="'Liberation Sans', 'DejaVu Sans', sans-serif" font-size="36" fill="#000">
<text transform="translate(27 418) rotate(-90)" text-anchor="middle">Transmission</text>
<text x="123" y="606.4" text-anchor="end">0</text>
<text x="123" y="517.9" text-anchor="end">0.25</text>
<text x="123" y="429.4" text-anchor="end">0.5</text>
<text x="123" y="340.9" text-anchor="end">0.75</text>
<text x="123" y="252.4" text-anchor="end">1</text>
<text transform="translate(178.5 653.8) rotate(8.70)" font-size="36.3">0 nm</text>
<text transform="translate(347.5 682.6) rotate(8.70)" font-size="36.3">61 nm</text>
<text transform="translate(458.5 698.8) rotate(8.70)" font-size="36.3">101 nm</text>
<text transform="translate(585.8 719.6) rotate(8.70)" font-size="36.3">121 nm</text>
<text transform="translate(719.4 740.7) rotate(8.70)" font-size="36.3">160 nm</text>
<text transform="translate(885.0 767.6) rotate(8.70)" font-size="36.3">220 nm</text>
<text transform="translate(233 721.3) rotate(8.70)" font-size="36.3">Variation of the cavity length</text>
<text><tspan x="1538.0" y="505.6" font-family="'Liberation Sans', sans-serif" font-size="39.0">|</tspan><tspan x="1554.1" y="507.0" font-family="'DejaVu Sans', 'Liberation Sans', sans-serif" font-size="40.5">ℓ </tspan><tspan x="1578.7" y="507.0" font-family="'Liberation Sans', sans-serif" font-size="37.0">= </tspan><tspan x="1610.0" y="507.0" font-family="'Liberation Sans', sans-serif" font-size="37.0">+</tspan><tspan x="1632.5" y="504.4" font-family="'Liberation Sans', sans-serif" font-size="36.5">1</tspan><tspan x="1647.3" y="510.5" font-family="'DejaVu Sans', 'Liberation Sans', sans-serif" font-size="53.6">⟩ </tspan><tspan x="1674.7" y="504.4" font-family="'Liberation Sans', sans-serif" font-size="36.0">&amp; </tspan><tspan x="1703.7" y="505.6" font-family="'Liberation Sans', sans-serif" font-size="39.0">|</tspan><tspan x="1720.1" y="507.0" font-family="'DejaVu Sans', 'Liberation Sans', sans-serif" font-size="40.5">ℓ </tspan><tspan x="1743.3" y="507.0" font-family="'Liberation Sans', sans-serif" font-size="37.0">= </tspan><tspan x="1774.3" y="507.0" font-family="'Liberation Sans', sans-serif" font-size="37.0">+</tspan><tspan x="1795.2" y="504.4" font-family="'Liberation Sans', sans-serif" font-size="36.5">2</tspan><tspan x="1813.3" y="510.5" font-family="'DejaVu Sans', 'Liberation Sans', sans-serif" font-size="53.6">⟩</tspan></text>
<text><tspan x="1318.7" y="642.1" font-family="'Liberation Sans', sans-serif" font-size="39.0">|</tspan><tspan x="1334.1" y="643.5" font-family="'DejaVu Sans', 'Liberation Sans', sans-serif" font-size="40.5">ℓ</tspan><tspan x="1354.8" y="643.5" font-family="'Liberation Sans', sans-serif" font-size="37.0">= </tspan><tspan x="1386.2" y="643.5" font-family="'Liberation Sans', sans-serif" font-size="37.0">+</tspan><tspan x="1407.1" y="640.9" font-family="'Liberation Sans', sans-serif" font-size="36.5">2</tspan><tspan x="1426.4" y="647.0" font-family="'DejaVu Sans', 'Liberation Sans', sans-serif" font-size="53.6">⟩</tspan></text>
<text><tspan x="1059.3" y="756.9" font-family="'Liberation Sans', sans-serif" font-size="39.0">|</tspan><tspan x="1075.0" y="758.3" font-family="'DejaVu Sans', 'Liberation Sans', sans-serif" font-size="40.5">ℓ</tspan><tspan x="1092.6" y="758.3" font-family="'Liberation Sans', sans-serif" font-size="37.0">= </tspan><tspan x="1124.0" y="758.3" font-family="'Liberation Sans', sans-serif" font-size="37.0">+</tspan><tspan x="1146.3" y="755.7" font-family="'Liberation Sans', sans-serif" font-size="36.5">1</tspan><tspan x="1163.3" y="761.8" font-family="'DejaVu Sans', 'Liberation Sans', sans-serif" font-size="53.6">⟩</tspan></text>
</g>
<g id="peaklabels" font-family="'Liberation Sans', sans-serif" font-size="51" font-weight="bold" fill="#000" text-anchor="middle">
<text x="720.7" y="148.5">a</text>
<text x="918.9" y="92.0">b</text>
<text x="1045.2" y="167.0">c</text>
<text x="1111.0" y="184.0">d</text>
<text x="1238.9" y="74.0">e</text>
<text x="1429.0" y="178.5">f</text>
</g>
<g id="dashbox" fill="none" stroke="#fcbc06" stroke-width="5.0"><path d="M55 855.1 L55 846.7 A3 3 0 0 1 58 843.7 L1896 843.7" stroke-dasharray="15.75 5.07"/><line x1="55" y1="859.0" x2="55" y2="1173.9" stroke-dasharray="15.75 5.05"/><line x1="1892" y1="849.0" x2="1892" y2="1174" stroke-dasharray="15.75 4.97"/><line x1="52.5" y1="1171.4" x2="1896" y2="1171.4" stroke-dasharray="15.75 5.05" stroke-dashoffset="17.9"/></g>
<g id="panels">
<rect x="65.5" y="860.8" width="282.2" height="295.1" fill="#060606"/>
<g filter="url(#hot_a)">
<rect x="121.5" y="928.4" width="168" height="168" fill="#000"/>
<circle cx="205.5" cy="1012.4" r="74.0" fill="url(#int_a)"/>
<g transform="rotate(-48 205.5 1012.4)" fill="#000"><ellipse cx="200.9" cy="1012.7" rx="5.2" ry="3.8"/><ellipse cx="210.1" cy="1012.1" rx="5.2" ry="3.8"/></g>
</g>
<rect x="255.5" y="1068.6" width="89.0" height="82.0" fill="#060606"/>
<svg x="255.5" y="1068.6" width="89.0" height="82.0" viewBox="0 0 89 82" preserveAspectRatio="none"><use href="#fringeA"/></svg>
<rect x="257.4" y="1070.4" width="85.3" height="78.3" fill="none" stroke="#f8e40c" stroke-width="3.7"/>
<text x="78.4" y="905.4" font-family="'Liberation Sans', sans-serif" font-size="35.4" fill="#fff">Peak a</text>
<text x="80.0" y="1134.8" font-family="'Liberation Serif', 'DejaVu Serif', serif" font-size="40" fill="#f6e21e"><tspan stroke="#f6e21e" stroke-width="0.7">λ</tspan><tspan font-family="'Liberation Sans', sans-serif" font-size="24.5" dy="10.3">1</tspan></text>
<rect x="354.0" y="861.0" width="287.5" height="297.0" fill="#060606"/>
<g filter="url(#hot_b)">
<rect x="411.0" y="928.4" width="168" height="168" fill="#000"/>
<circle cx="495.0" cy="1012.4" r="74.4" fill="url(#int_b)"/>
<g transform="rotate(-48 495.0 1012.4)" fill="#000"><ellipse cx="490.4" cy="1012.7" rx="5.2" ry="3.8"/><ellipse cx="499.6" cy="1012.1" rx="5.2" ry="3.8"/></g>
</g>
<rect x="548.6" y="1070.6" width="89.5" height="82.4" fill="#060606"/>
<svg x="548.6" y="1070.6" width="89.5" height="82.4" viewBox="0 0 89 82" preserveAspectRatio="none"><use href="#fringeA"/></svg>
<rect x="550.5" y="1072.4" width="85.8" height="78.7" fill="none" stroke="#f8e40c" stroke-width="3.7"/>
<text x="369.0" y="905.4" font-family="'Liberation Sans', sans-serif" font-size="35.4" fill="#fff">Peak b</text>
<text x="371.7" y="1134.8" font-family="'Liberation Serif', 'DejaVu Serif', serif" font-size="40" fill="#f6e21e"><tspan stroke="#f6e21e" stroke-width="0.7">λ</tspan><tspan font-family="'Liberation Sans', sans-serif" font-size="24.5" dy="10.3">2</tspan></text>
<rect x="645.0" y="863.5" width="321.9" height="294.6" fill="#060606"/>
<g filter="url(#hot_c)">
<rect x="708.0" y="931.0" width="168" height="168" fill="#000"/>
<circle cx="792.0" cy="1015.0" r="66.5" fill="url(#int_c)"/>
<circle cx="792.0" cy="1015.5" r="3.6" fill="#000"/>
</g>
<rect x="873.3" y="1071.2" width="89.1" height="82.4" fill="#060606"/>
<svg x="873.3" y="1071.2" width="89.1" height="82.4" viewBox="0 0 89 82" preserveAspectRatio="none"><use href="#fringeB"/></svg>
<rect x="875.1" y="1073.0" width="85.4" height="78.7" fill="none" stroke="#f8e40c" stroke-width="3.7"/>
<text x="662.4" y="905.4" font-family="'Liberation Sans', sans-serif" font-size="35.4" fill="#fff">Peak c</text>
<text x="661.5" y="1134.8" font-family="'Liberation Serif', 'DejaVu Serif', serif" font-size="40" fill="#f6e21e"><tspan stroke="#f6e21e" stroke-width="0.7">λ</tspan><tspan font-family="'Liberation Sans', sans-serif" font-size="24.5" dy="10.3">1</tspan></text>
<rect x="974.0" y="863.0" width="287.6" height="295.1" fill="#060606"/>
<g filter="url(#hot_d)">
<rect x="1029.8" y="931.0" width="168" height="168" fill="#000"/>
<circle cx="1113.8" cy="1015.0" r="74.5" fill="url(#int_d)"/>
<g transform="rotate(-48 1113.8 1015.0)" fill="#000"><ellipse cx="1109.2" cy="1015.3" rx="5.2" ry="3.8"/><ellipse cx="1118.4" cy="1014.7" rx="5.2" ry="3.8"/></g>
</g>
<rect x="1167.2" y="1071.6" width="89.7" height="82.4" fill="#060606"/>
<svg x="1167.2" y="1071.6" width="89.7" height="82.4" viewBox="0 0 89 82" preserveAspectRatio="none"><use href="#fringeA"/></svg>
<rect x="1169.0" y="1073.4" width="86.0" height="78.7" fill="none" stroke="#f8e40c" stroke-width="3.7"/>
<text x="989.1" y="905.4" font-family="'Liberation Sans', sans-serif" font-size="35.4" fill="#fff">Peak d</text>
<text x="989.5" y="1134.8" font-family="'Liberation Serif', 'DejaVu Serif', serif" font-size="40" fill="#f6e21e"><tspan stroke="#f6e21e" stroke-width="0.7">λ</tspan><tspan font-family="'Liberation Sans', sans-serif" font-size="24.5" dy="10.3">3</tspan></text>
<rect x="1267.4" y="861.0" width="305.4" height="296.7" fill="#060606"/>
<g filter="url(#hot_e)">
<rect x="1322.3" y="928.0" width="168" height="168" fill="#000"/>
<circle cx="1406.3" cy="1012.0" r="68.5" fill="url(#int_e)"/>
<ellipse cx="1406.8" cy="1012.0" rx="4.6" ry="2.8" transform="rotate(25 1406.3 1012.0)" fill="#000"/>
</g>
<rect x="1479.2" y="1069.8" width="89.1" height="82.6" fill="#060606"/>
<svg x="1479.2" y="1069.8" width="89.1" height="82.6" viewBox="0 0 89 82" preserveAspectRatio="none"><use href="#fringeB"/></svg>
<rect x="1481.0" y="1071.6" width="85.4" height="78.9" fill="none" stroke="#f8e40c" stroke-width="3.7"/>
<text x="1281.0" y="905.4" font-family="'Liberation Sans', sans-serif" font-size="35.4" fill="#fff">Peak e</text>
<text x="1282.9" y="1134.8" font-family="'Liberation Serif', 'DejaVu Serif', serif" font-size="40" fill="#f6e21e"><tspan stroke="#f6e21e" stroke-width="0.7">λ</tspan><tspan font-family="'Liberation Sans', sans-serif" font-size="24.5" dy="10.3">2</tspan></text>
<rect x="1579.0" y="861.0" width="304.5" height="296.7" fill="#060606"/>
<g filter="url(#hot_f)">
<rect x="1633.3" y="928.4" width="168" height="168" fill="#000"/>
<circle cx="1717.3" cy="1012.4" r="66.5" fill="url(#int_f)"/>
<circle cx="1717.3" cy="1012.9" r="3.6" fill="#000"/>
</g>
<rect x="1790.5" y="1068.8" width="89.3" height="82.5" fill="#060606"/>
<svg x="1790.5" y="1068.8" width="89.3" height="82.5" viewBox="0 0 89 82" preserveAspectRatio="none"><use href="#fringeB"/></svg>
<rect x="1792.3" y="1070.6" width="85.6" height="78.8" fill="none" stroke="#f8e40c" stroke-width="3.7"/>
<text x="1589.6" y="905.4" font-family="'Liberation Sans', sans-serif" font-size="35.4" fill="#fff">Peak f</text>
<text x="1593.5" y="1134.8" font-family="'Liberation Serif', 'DejaVu Serif', serif" font-size="40" fill="#f6e21e"><tspan stroke="#f6e21e" stroke-width="0.7">λ</tspan><tspan font-family="'Liberation Sans', sans-serif" font-size="24.5" dy="10.3">3</tspan></text>
</g>
</svg>
</body>
</html>
